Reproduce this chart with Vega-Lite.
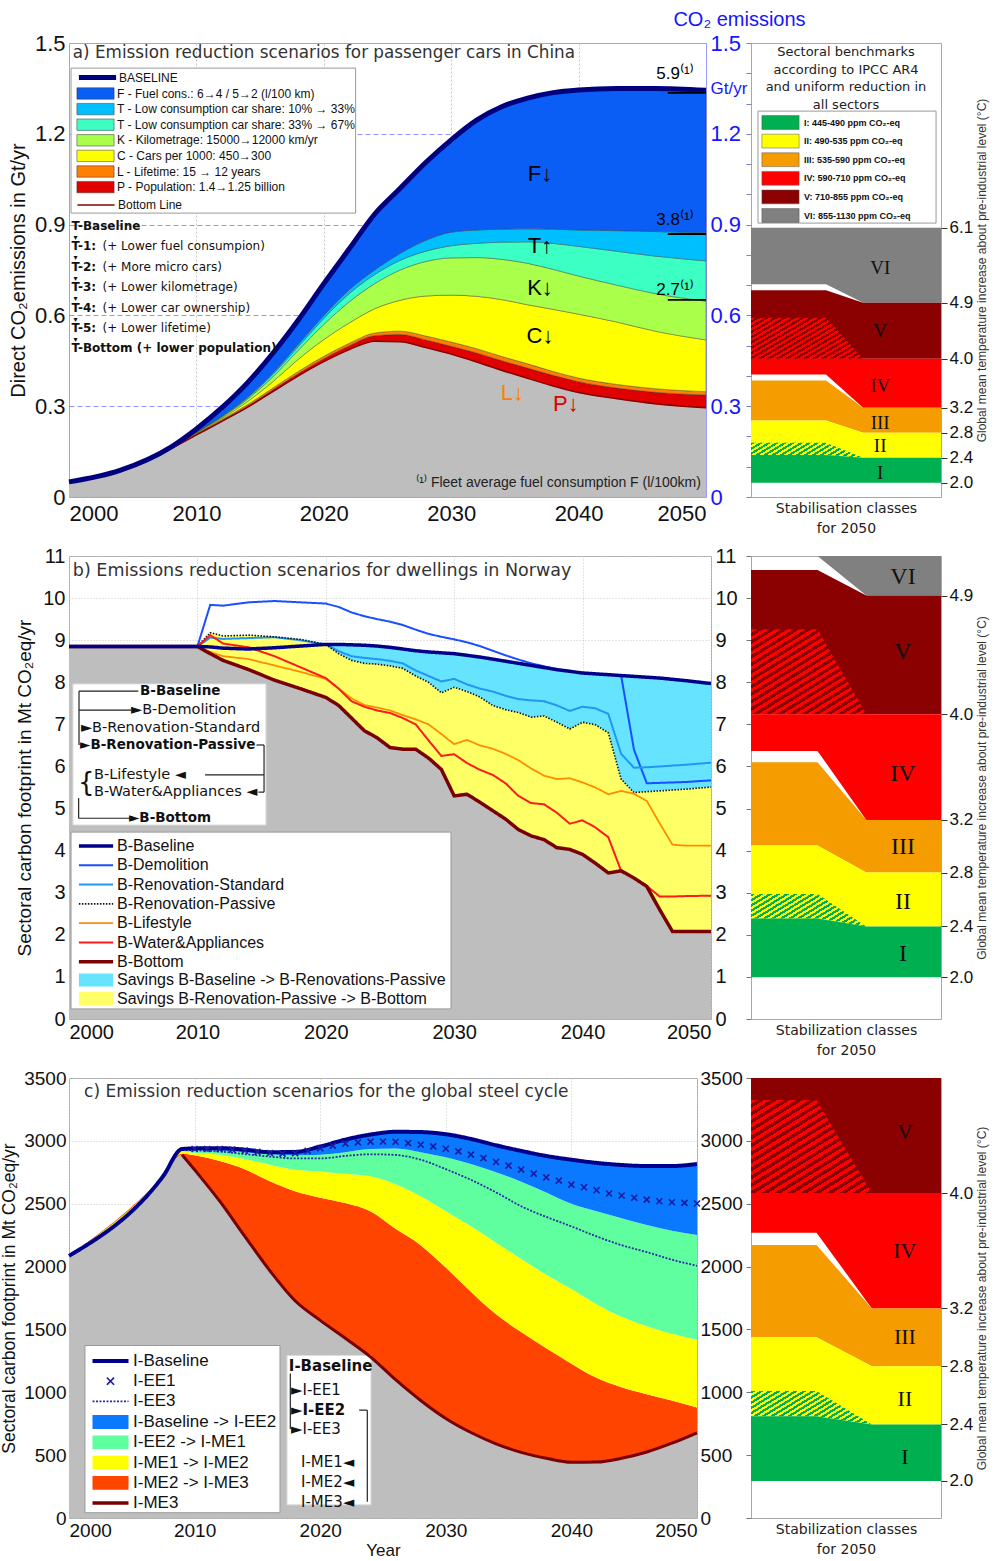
{
"$schema": "https://vega.github.io/schema/vega-lite/v6.json",
"background": "white",
"padding": {"left": 0, "top": 8, "right": 2, "bottom": 2},
"columns": 2,
"bounds": "flush",
"align": "each",
"spacing": {"row": 59, "column": 40},
"resolve": {"scale": {"x": "independent", "y": "independent", "fill": "independent", "stroke": "independent", "strokeDash": "independent", "strokeWidth": "independent", "strokeOpacity": "independent", "shape": "independent", "color": "independent"}},
"config": {
  "view": {"stroke": "#a8a8a8"},
  "axis": {"labelFont": "Liberation Sans", "titleFont": "Liberation Sans", "titleFontWeight": "normal", "labelColor": "#111", "titleColor": "#111"},
  "legend": {"labelFont": "Liberation Sans", "labelColor": "#111", "labelLimit": 600},
  "text": {"font": "Liberation Sans"}
},
"concat": [
{
  "width": 637, "height": 454,
  "resolve": {"scale": {"y": "independent"}},
  "layer": [
    {
      "data": {"values": [
        {"year":2000,"Base":0.05,"T1":0.05,"T2":0.05,"K":0.05,"C":0.05,"L":0.05,"P":0.05,"Bot":0.05},
        {"year":2004,"Base":0.088,"T1":0.088,"T2":0.088,"K":0.088,"C":0.088,"L":0.088,"P":0.088,"Bot":0.088},
        {"year":2008,"Base":0.165,"T1":0.163,"T2":0.163,"K":0.163,"C":0.162,"L":0.161,"P":0.16,"Bot":0.16},
        {"year":2010,"Base":0.225,"T1":0.215,"T2":0.214,"K":0.213,"C":0.211,"L":0.209,"P":0.207,"Bot":0.205},
        {"year":2012,"Base":0.295,"T1":0.268,"T2":0.266,"K":0.264,"C":0.26,"L":0.256,"P":0.253,"Bot":0.25},
        {"year":2014,"Base":0.377,"T1":0.33,"T2":0.327,"K":0.323,"C":0.315,"L":0.305,"P":0.3,"Bot":0.296},
        {"year":2016,"Base":0.475,"T1":0.41,"T2":0.405,"K":0.397,"C":0.381,"L":0.36,"P":0.354,"Bot":0.348},
        {"year":2018,"Base":0.585,"T1":0.505,"T2":0.497,"K":0.485,"C":0.455,"L":0.415,"P":0.408,"Bot":0.4},
        {"year":2020,"Base":0.705,"T1":0.6,"T2":0.59,"K":0.57,"C":0.52,"L":0.465,"P":0.457,"Bot":0.447},
        {"year":2022,"Base":0.82,"T1":0.685,"T2":0.672,"K":0.645,"C":0.575,"L":0.508,"P":0.5,"Bot":0.487},
        {"year":2024,"Base":0.935,"T1":0.75,"T2":0.735,"K":0.705,"C":0.622,"L":0.542,"P":0.533,"Bot":0.515},
        {"year":2026,"Base":1.02,"T1":0.805,"T2":0.782,"K":0.75,"C":0.65,"L":0.548,"P":0.537,"Bot":0.513},
        {"year":2028,"Base":1.105,"T1":0.848,"T2":0.812,"K":0.778,"C":0.664,"L":0.532,"P":0.519,"Bot":0.494},
        {"year":2030,"Base":1.18,"T1":0.875,"T2":0.83,"K":0.79,"C":0.667,"L":0.512,"P":0.498,"Bot":0.472},
        {"year":2032,"Base":1.245,"T1":0.882,"T2":0.838,"K":0.791,"C":0.663,"L":0.49,"P":0.476,"Bot":0.446},
        {"year":2034,"Base":1.29,"T1":0.885,"T2":0.842,"K":0.785,"C":0.652,"L":0.464,"P":0.45,"Bot":0.418},
        {"year":2036,"Base":1.318,"T1":0.886,"T2":0.843,"K":0.772,"C":0.635,"L":0.44,"P":0.426,"Bot":0.392},
        {"year":2038,"Base":1.336,"T1":0.885,"T2":0.838,"K":0.752,"C":0.62,"L":0.415,"P":0.402,"Bot":0.367},
        {"year":2040,"Base":1.345,"T1":0.882,"T2":0.828,"K":0.73,"C":0.604,"L":0.393,"P":0.381,"Bot":0.345},
        {"year":2043,"Base":1.35,"T1":0.88,"T2":0.812,"K":0.7,"C":0.578,"L":0.372,"P":0.36,"Bot":0.325},
        {"year":2046,"Base":1.35,"T1":0.877,"T2":0.796,"K":0.672,"C":0.548,"L":0.358,"P":0.346,"Bot":0.308},
        {"year":2050,"Base":1.344,"T1":0.873,"T2":0.78,"K":0.647,"C":0.519,"L":0.348,"P":0.337,"Bot":0.295}
      ]},
      "layer": [
        {"mark": {"type": "area", "color": "#bebebe", "interpolate": "monotone"},
         "encoding": {
           "x": {"field": "year", "type": "quantitative", "scale": {"domain": [2000, 2050], "nice": false},
                 "axis": {"values": [2000, 2010, 2020, 2030, 2040, 2050], "format": "d", "labelFontSize": 22, "labelPadding": 6, "tickSize": 0, "domain": false, "title": null, "grid": true, "gridColor": "#c4c4c4", "gridDash": [2, 2], "gridOpacity": {"condition": {"test": "datum.value == 2000 || datum.value == 2050", "value": 0}, "value": 1}}},
           "y": {"field": "Bot", "type": "quantitative", "scale": {"domain": [0, 1.5], "nice": false},
                 "axis": {"values": [0, 0.3, 0.6, 0.9, 1.2, 1.5], "labelExpr": "datum.value == 0 ? '0' : format(datum.value, '.1f')", "labelFontSize": 22, "labelPadding": 4, "tickSize": 0, "domain": false, "title": "Direct CO₂emissions in Gt/yr", "titleFontSize": 20, "titlePadding": 6, "grid": true, "gridColor": "#7878ff", "gridDash": [5, 3], "gridOpacity": {"condition": {"test": "datum.value == 0 || datum.value == 1.5", "value": 0}, "value": 0.8}}}
         }},
        {"mark": {"type": "area", "interpolate": "monotone", "stroke": "#333", "strokeWidth": 0.4},
         "encoding": {"x": {"field": "year", "type": "quantitative"}, "y": {"field": "P", "type": "quantitative"}, "y2": {"field": "Bot"},
           "fill": {"datum": "P - Population: 1.4→1.25 billion",
             "scale": {"domain": ["F - Fuel cons.: 6→4 / 5→2 (l/100 km)", "T - Low consumption car share: 10% → 33%", "T - Low consumption car share: 33% → 67%", "K - Kilometrage: 15000→12000 km/yr", "C - Cars per 1000: 450→300", "L - Lifetime: 15 → 12 years", "P - Population: 1.4→1.25 billion"],
                       "range": ["#0a5ef5", "#00bfff", "#3cffc4", "#a9ff4a", "#ffff00", "#ff8000", "#e00000"]},
             "legend": {"orient": "none", "legendX": 20, "legendY": 44, "title": null, "symbolType": "M-3.1,-0.95H3.1V0.95H-3.1Z", "symbolSize": 144, "symbolStrokeColor": "#333", "symbolStrokeWidth": 0.5, "labelFontSize": 12, "labelOffset": 15, "rowPadding": 0.6}}}},
        {"mark": {"type": "area", "interpolate": "monotone", "stroke": "#333", "strokeWidth": 0.4},
         "encoding": {"x": {"field": "year", "type": "quantitative"}, "y": {"field": "L", "type": "quantitative"}, "y2": {"field": "P"}, "fill": {"datum": "L - Lifetime: 15 → 12 years"}}},
        {"mark": {"type": "area", "interpolate": "monotone", "stroke": "#333", "strokeWidth": 0.4},
         "encoding": {"x": {"field": "year", "type": "quantitative"}, "y": {"field": "C", "type": "quantitative"}, "y2": {"field": "L"}, "fill": {"datum": "C - Cars per 1000: 450→300"}}},
        {"mark": {"type": "area", "interpolate": "monotone", "stroke": "#333", "strokeWidth": 0.4},
         "encoding": {"x": {"field": "year", "type": "quantitative"}, "y": {"field": "K", "type": "quantitative"}, "y2": {"field": "C"}, "fill": {"datum": "K - Kilometrage: 15000→12000 km/yr"}}},
        {"mark": {"type": "area", "interpolate": "monotone", "stroke": "#333", "strokeWidth": 0.4},
         "encoding": {"x": {"field": "year", "type": "quantitative"}, "y": {"field": "T2", "type": "quantitative"}, "y2": {"field": "K"}, "fill": {"datum": "T - Low consumption car share: 33% → 67%"}}},
        {"mark": {"type": "area", "interpolate": "monotone", "stroke": "#333", "strokeWidth": 0.4},
         "encoding": {"x": {"field": "year", "type": "quantitative"}, "y": {"field": "T1", "type": "quantitative"}, "y2": {"field": "T2"}, "fill": {"datum": "T - Low consumption car share: 10% → 33%"}}},
        {"mark": {"type": "area", "interpolate": "monotone", "stroke": "#333", "strokeWidth": 0.4},
         "encoding": {"x": {"field": "year", "type": "quantitative"}, "y": {"field": "Base", "type": "quantitative"}, "y2": {"field": "T1"}, "fill": {"datum": "F - Fuel cons.: 6→4 / 5→2 (l/100 km)"}}},
        {"mark": {"type": "line", "interpolate": "monotone", "strokeWidth": 1.5},
         "encoding": {"x": {"field": "year", "type": "quantitative"}, "y": {"field": "Bot", "type": "quantitative"},
           "color": {"datum": "Bottom Line", "scale": {"range": ["#8b0000"]},
             "legend": {"orient": "none", "legendX": 20, "legendY": 155, "title": null, "symbolType": "M-3.1,0H3.1", "symbolSize": 144, "symbolStrokeWidth": 1.5, "labelFontSize": 12, "labelOffset": 15}}}},
        {"mark": {"type": "line", "interpolate": "monotone", "strokeWidth": 5},
         "encoding": {"x": {"field": "year", "type": "quantitative"}, "y": {"field": "Base", "type": "quantitative"},
           "stroke": {"datum": "BASELINE", "scale": {"range": ["#00007f"]},
             "legend": {"orient": "none", "legendX": 20, "legendY": 26, "title": null, "symbolType": "M-3.1,0H3.1", "symbolSize": 144, "symbolStrokeWidth": 5, "labelFontSize": 12, "labelOffset": 13}}}},
        {"data": {"values": [{}]},
         "layer": [
           {"mark": {"type": "rect", "fill": "white", "stroke": "#999", "strokeWidth": 1},
            "encoding": {"x": {"datum": 2000.16}, "x2": {"datum": 2022.5}, "y": {"datum": 1.417}, "y2": {"datum": 0.938}}},
           {"mark": {"type": "text", "text": "a) Emission reduction scenarios for passenger cars in China", "font": "DejaVu Sans", "fontSize": 16.8, "align": "left", "baseline": "middle", "color": "#333"},
            "encoding": {"x": {"datum": 2000.3}, "y": {"datum": 1.467}}},
           {"mark": {"type": "text", "text": ["T-Baseline", "T-1:", "T-2:", "T-3:", "T-4:", "T-5:", "T-Bottom (+ lower population)"], "font": "DejaVu Sans", "fontWeight": "bold", "fontSize": 12, "lineHeight": 20.4, "align": "left", "baseline": "alphabetic", "color": "#111"},
            "encoding": {"x": {"datum": 2000.2}, "y": {"datum": 0.882}}},
           {"mark": {"type": "text", "text": ["", "(+ Lower fuel consumpion)", "(+ More micro cars)", "(+ Lower kilometrage)", "(+ Lower car ownership)", "(+ Lower lifetime)", ""], "font": "DejaVu Sans", "fontSize": 12, "lineHeight": 20.4, "align": "left", "baseline": "alphabetic", "dx": 31, "color": "#111"},
            "encoding": {"x": {"datum": 2000.2}, "y": {"datum": 0.882}}},
           {"mark": {"type": "text", "text": ["▾", "▾", "▾", "▾", "▾", "▾"], "font": "DejaVu Sans", "fontSize": 8, "lineHeight": 20.4, "align": "left", "baseline": "alphabetic", "dx": 2, "dy": 10, "color": "#111"},
            "encoding": {"x": {"datum": 2000.2}, "y": {"datum": 0.882}}},
           {"mark": {"type": "text", "text": "F↓", "fontSize": 22, "align": "center", "baseline": "middle", "color": "#000"}, "encoding": {"x": {"datum": 2036.97}, "y": {"datum": 1.067}}},
           {"mark": {"type": "text", "text": "T↑", "fontSize": 22, "align": "center", "baseline": "middle", "color": "#000"}, "encoding": {"x": {"datum": 2036.97}, "y": {"datum": 0.829}}},
           {"mark": {"type": "text", "text": "K↓", "fontSize": 22, "align": "center", "baseline": "middle", "color": "#000"}, "encoding": {"x": {"datum": 2036.97}, "y": {"datum": 0.69}}},
           {"mark": {"type": "text", "text": "C↓", "fontSize": 22, "align": "center", "baseline": "middle", "color": "#000"}, "encoding": {"x": {"datum": 2036.97}, "y": {"datum": 0.532}}},
           {"mark": {"type": "text", "text": "L↓", "fontSize": 22, "align": "center", "baseline": "middle", "color": "#ff8000"}, "encoding": {"x": {"datum": 2034.8}, "y": {"datum": 0.344}}},
           {"mark": {"type": "text", "text": "P↓", "fontSize": 22, "align": "center", "baseline": "middle", "color": "#e00000"}, "encoding": {"x": {"datum": 2039.0}, "y": {"datum": 0.307}}},
           {"mark": {"type": "text", "text": "5.9⁽¹⁾", "fontSize": 17, "align": "left", "baseline": "middle", "color": "#000"}, "encoding": {"x": {"datum": 2046.1}, "y": {"datum": 1.397}}},
           {"mark": {"type": "text", "text": "3.8⁽¹⁾", "fontSize": 17, "align": "left", "baseline": "middle", "color": "#000"}, "encoding": {"x": {"datum": 2046.1}, "y": {"datum": 0.915}}},
           {"mark": {"type": "text", "text": "2.7⁽¹⁾", "fontSize": 17, "align": "left", "baseline": "middle", "color": "#000"}, "encoding": {"x": {"datum": 2046.1}, "y": {"datum": 0.684}}},
           {"mark": {"type": "rule", "color": "#000", "strokeWidth": 1.8}, "encoding": {"x": {"datum": 2047}, "x2": {"datum": 2050}, "y": {"datum": 1.335}}},
           {"mark": {"type": "rule", "color": "#000", "strokeWidth": 1.8}, "encoding": {"x": {"datum": 2047}, "x2": {"datum": 2050}, "y": {"datum": 0.869}}},
           {"mark": {"type": "rule", "color": "#000", "strokeWidth": 1.8}, "encoding": {"x": {"datum": 2047}, "x2": {"datum": 2050}, "y": {"datum": 0.651}}},
           {"mark": {"type": "text", "text": "⁽¹⁾ Fleet average fuel consumption F (l/100km)", "fontSize": 14, "align": "right", "baseline": "middle", "color": "#222"}, "encoding": {"x": {"datum": 2049.6}, "y": {"datum": 0.046}}}
         ]}
      ]
    },
    {"data": {"values": [{}]},
     "mark": {"type": "rule", "opacity": 0},
     "encoding": {"y": {"datum": 0, "type": "quantitative", "scale": {"domain": [0, 1.5], "nice": false},
       "axis": {"orient": "right", "values": [0, 0.3, 0.6, 0.9, 1.2, 1.35, 1.5], "labelExpr": "datum.value == 1.35 ? 'Gt/yr' : datum.value == 0 ? '0' : format(datum.value, '.1f')", "labelOverlap": false, "labelColor": "#1515ff", "labelFontSize": {"condition": {"test": "datum.value == 1.35", "value": 17}, "value": 22}, "labelPadding": 4, "tickSize": 0, "domain": true, "domainColor": "#9a9aff", "grid": false, "title": "CO₂ emissions", "titleColor": "#1515ff", "titleFontSize": 20, "titleAngle": 0, "titleAlign": "center", "titleBaseline": "middle", "titleX": 33, "titleY": -24}}}}
  ]
},
{
  "width": 190, "height": 454,
  "resolve": {"scale": {"y": "independent"}},
  "layer": [
    {
      "data": {"values": [
        {"x":0,"vi_t":0.89,"vi_b":0.703,"v_t":0.683,"vh_t":0.592,"v_b":0.457,"iv_b":0.405,"iii_t":0.385,"iii_b":0.253,"iih_t":0.179,"i_t":0.139,"i_b":0.047},
        {"x":0.395,"vi_t":0.89,"vi_b":0.703,"v_t":0.683,"vh_t":0.592,"v_b":0.457,"iv_b":0.405,"iii_t":0.385,"iii_b":0.253,"iih_t":0.179,"i_t":0.139,"i_b":0.047},
        {"x":0.59,"vi_t":0.89,"vi_b":0.642,"v_t":0.642,"vh_t":0.457,"v_b":0.457,"iv_b":0.295,"iii_t":0.295,"iii_b":0.212,"iih_t":0.13,"i_t":0.13,"i_b":0.047},
        {"x":1,"vi_t":0.89,"vi_b":0.642,"v_t":0.642,"vh_t":0.457,"v_b":0.457,"iv_b":0.295,"iii_t":0.295,"iii_b":0.212,"iih_t":0.13,"i_t":0.13,"i_b":0.047}
      ]},
      "layer": [
        {"mark": {"type": "area"},
         "encoding": {
           "x": {"field": "x", "type": "quantitative", "scale": {"domain": [0, 1], "nice": false},
                 "axis": {"title": ["Stabilisation classes", "for 2050"], "labels": false, "ticks": false, "domain": false, "grid": false, "titleFont": "DejaVu Sans", "titleFontSize": 14, "titlePadding": 4, "titleLineHeight": 20, "titleColor": "#222"}},
           "y": {"field": "vi_t", "type": "quantitative", "scale": {"domain": [0, 1.5], "nice": false},
                 "axis": {"orient": "right", "values": [0.047, 0.13, 0.212, 0.295, 0.457, 0.642, 0.89], "labelExpr": "datum.value < 0.1 ? '2.0' : datum.value < 0.17 ? '2.4' : datum.value < 0.25 ? '2.8' : datum.value < 0.35 ? '3.2' : datum.value < 0.5 ? '4.0' : datum.value < 0.7 ? '4.9' : '6.1'", "labelFontSize": 17, "labelPadding": 2, "tickSize": 6, "tickColor": "#333", "domain": false, "grid": false, "title": "Global mean temperature increase about pre-industrial level (°C)", "titleFontSize": 12, "titleAngle": 270, "titleBaseline": "top", "titlePadding": 4, "titleColor": "#333"}},
           "y2": {"field": "vi_b"},
           "fill": {"datum": "VI: 855-1130 ppm CO₂-eq",
             "scale": {"domain": ["I: 445-490 ppm CO₂-eq", "II: 490-535 ppm CO₂-eq", "III: 535-590 ppm CO₂-eq", "IV: 590-710 ppm CO₂-eq", "V: 710-855 ppm CO₂-eq", "VI: 855-1130 ppm CO₂-eq"],
                       "range": ["#00b050", "#ffff00", "#f59d00", "#ff0000", "#8b0000", "#808080"]},
             "legend": {"orient": "none", "legendX": 23, "legendY": 73, "title": null, "symbolType": "M-3.1,-1.15H3.1V1.15H-3.1Z", "symbolSize": 144, "symbolStrokeColor": "#555", "symbolStrokeWidth": 0.5, "labelFontSize": 9, "labelFontWeight": "bold", "labelOffset": 17, "rowPadding": 1.6}}}},
        {"mark": {"type": "area"}, "encoding": {"x": {"field": "x", "type": "quantitative"}, "y": {"field": "v_t", "type": "quantitative"}, "y2": {"field": "v_b"}, "fill": {"datum": "V: 710-855 ppm CO₂-eq"}}},
        {"mark": {"type": "area", "color": {"gradient": "linear", "x1": 0, "y1": 0, "x2": 1, "y2": 0.37, "stops": [
      {"offset":0,"color":"#ff0000"},{"offset":0.0208,"color":"#ff0000"},{"offset":0.0208,"color":"#8b0000"},{"offset":0.0417,"color":"#8b0000"},
      {"offset":0.0417,"color":"#ff0000"},{"offset":0.0625,"color":"#ff0000"},{"offset":0.0625,"color":"#8b0000"},{"offset":0.0833,"color":"#8b0000"},
      {"offset":0.0833,"color":"#ff0000"},{"offset":0.1042,"color":"#ff0000"},{"offset":0.1042,"color":"#8b0000"},{"offset":0.125,"color":"#8b0000"},
      {"offset":0.125,"color":"#ff0000"},{"offset":0.1458,"color":"#ff0000"},{"offset":0.1458,"color":"#8b0000"},{"offset":0.1667,"color":"#8b0000"},
      {"offset":0.1667,"color":"#ff0000"},{"offset":0.1875,"color":"#ff0000"},{"offset":0.1875,"color":"#8b0000"},{"offset":0.2083,"color":"#8b0000"},
      {"offset":0.2083,"color":"#ff0000"},{"offset":0.2292,"color":"#ff0000"},{"offset":0.2292,"color":"#8b0000"},{"offset":0.25,"color":"#8b0000"},
      {"offset":0.25,"color":"#ff0000"},{"offset":0.2708,"color":"#ff0000"},{"offset":0.2708,"color":"#8b0000"},{"offset":0.2917,"color":"#8b0000"},
      {"offset":0.2917,"color":"#ff0000"},{"offset":0.3125,"color":"#ff0000"},{"offset":0.3125,"color":"#8b0000"},{"offset":0.3333,"color":"#8b0000"},
      {"offset":0.3333,"color":"#ff0000"},{"offset":0.3542,"color":"#ff0000"},{"offset":0.3542,"color":"#8b0000"},{"offset":0.375,"color":"#8b0000"},
      {"offset":0.375,"color":"#ff0000"},{"offset":0.3958,"color":"#ff0000"},{"offset":0.3958,"color":"#8b0000"},{"offset":0.4167,"color":"#8b0000"},
      {"offset":0.4167,"color":"#ff0000"},{"offset":0.4375,"color":"#ff0000"},{"offset":0.4375,"color":"#8b0000"},{"offset":0.4583,"color":"#8b0000"},
      {"offset":0.4583,"color":"#ff0000"},{"offset":0.4792,"color":"#ff0000"},{"offset":0.4792,"color":"#8b0000"},{"offset":0.5,"color":"#8b0000"},
      {"offset":0.5,"color":"#ff0000"},{"offset":0.5208,"color":"#ff0000"},{"offset":0.5208,"color":"#8b0000"},{"offset":0.5417,"color":"#8b0000"},
      {"offset":0.5417,"color":"#ff0000"},{"offset":0.5625,"color":"#ff0000"},{"offset":0.5625,"color":"#8b0000"},{"offset":0.5833,"color":"#8b0000"},
      {"offset":0.5833,"color":"#ff0000"},{"offset":0.6042,"color":"#ff0000"},{"offset":0.6042,"color":"#8b0000"},{"offset":0.625,"color":"#8b0000"},
      {"offset":0.625,"color":"#ff0000"},{"offset":0.6458,"color":"#ff0000"},{"offset":0.6458,"color":"#8b0000"},{"offset":0.6667,"color":"#8b0000"},
      {"offset":0.6667,"color":"#ff0000"},{"offset":0.6875,"color":"#ff0000"},{"offset":0.6875,"color":"#8b0000"},{"offset":0.7083,"color":"#8b0000"},
      {"offset":0.7083,"color":"#ff0000"},{"offset":0.7292,"color":"#ff0000"},{"offset":0.7292,"color":"#8b0000"},{"offset":0.75,"color":"#8b0000"},
      {"offset":0.75,"color":"#ff0000"},{"offset":0.7708,"color":"#ff0000"},{"offset":0.7708,"color":"#8b0000"},{"offset":0.7917,"color":"#8b0000"},
      {"offset":0.7917,"color":"#ff0000"},{"offset":0.8125,"color":"#ff0000"},{"offset":0.8125,"color":"#8b0000"},{"offset":0.8333,"color":"#8b0000"},
      {"offset":0.8333,"color":"#ff0000"},{"offset":0.8542,"color":"#ff0000"},{"offset":0.8542,"color":"#8b0000"},{"offset":0.875,"color":"#8b0000"},
      {"offset":0.875,"color":"#ff0000"},{"offset":0.8958,"color":"#ff0000"},{"offset":0.8958,"color":"#8b0000"},{"offset":0.9167,"color":"#8b0000"},
      {"offset":0.9167,"color":"#ff0000"},{"offset":0.9375,"color":"#ff0000"},{"offset":0.9375,"color":"#8b0000"},{"offset":0.9583,"color":"#8b0000"},
      {"offset":0.9583,"color":"#ff0000"},{"offset":0.9792,"color":"#ff0000"},{"offset":0.9792,"color":"#8b0000"},{"offset":1,"color":"#8b0000"}]}},
         "encoding": {"x": {"field": "x", "type": "quantitative"}, "y": {"field": "vh_t", "type": "quantitative"}, "y2": {"field": "v_b"}}},
        {"mark": {"type": "area"}, "encoding": {"x": {"field": "x", "type": "quantitative"}, "y": {"field": "v_b", "type": "quantitative"}, "y2": {"field": "iv_b"}, "fill": {"datum": "IV: 590-710 ppm CO₂-eq"}}},
        {"mark": {"type": "area"}, "encoding": {"x": {"field": "x", "type": "quantitative"}, "y": {"field": "iii_t", "type": "quantitative"}, "y2": {"field": "iii_b"}, "fill": {"datum": "III: 535-590 ppm CO₂-eq"}}},
        {"mark": {"type": "area"}, "encoding": {"x": {"field": "x", "type": "quantitative"}, "y": {"field": "iii_b", "type": "quantitative"}, "y2": {"field": "i_t"}, "fill": {"datum": "II: 490-535 ppm CO₂-eq"}}},
        {"mark": {"type": "area", "color": {"gradient": "linear", "x1": 0, "y1": 0, "x2": 1, "y2": 0.13, "stops": [
      {"offset":0,"color":"#00b050"},{"offset":0.0208,"color":"#00b050"},{"offset":0.0208,"color":"#ffff00"},{"offset":0.0417,"color":"#ffff00"},
      {"offset":0.0417,"color":"#00b050"},{"offset":0.0625,"color":"#00b050"},{"offset":0.0625,"color":"#ffff00"},{"offset":0.0833,"color":"#ffff00"},
      {"offset":0.0833,"color":"#00b050"},{"offset":0.1042,"color":"#00b050"},{"offset":0.1042,"color":"#ffff00"},{"offset":0.125,"color":"#ffff00"},
      {"offset":0.125,"color":"#00b050"},{"offset":0.1458,"color":"#00b050"},{"offset":0.1458,"color":"#ffff00"},{"offset":0.1667,"color":"#ffff00"},
      {"offset":0.1667,"color":"#00b050"},{"offset":0.1875,"color":"#00b050"},{"offset":0.1875,"color":"#ffff00"},{"offset":0.2083,"color":"#ffff00"},
      {"offset":0.2083,"color":"#00b050"},{"offset":0.2292,"color":"#00b050"},{"offset":0.2292,"color":"#ffff00"},{"offset":0.25,"color":"#ffff00"},
      {"offset":0.25,"color":"#00b050"},{"offset":0.2708,"color":"#00b050"},{"offset":0.2708,"color":"#ffff00"},{"offset":0.2917,"color":"#ffff00"},
      {"offset":0.2917,"color":"#00b050"},{"offset":0.3125,"color":"#00b050"},{"offset":0.3125,"color":"#ffff00"},{"offset":0.3333,"color":"#ffff00"},
      {"offset":0.3333,"color":"#00b050"},{"offset":0.3542,"color":"#00b050"},{"offset":0.3542,"color":"#ffff00"},{"offset":0.375,"color":"#ffff00"},
      {"offset":0.375,"color":"#00b050"},{"offset":0.3958,"color":"#00b050"},{"offset":0.3958,"color":"#ffff00"},{"offset":0.4167,"color":"#ffff00"},
      {"offset":0.4167,"color":"#00b050"},{"offset":0.4375,"color":"#00b050"},{"offset":0.4375,"color":"#ffff00"},{"offset":0.4583,"color":"#ffff00"},
      {"offset":0.4583,"color":"#00b050"},{"offset":0.4792,"color":"#00b050"},{"offset":0.4792,"color":"#ffff00"},{"offset":0.5,"color":"#ffff00"},
      {"offset":0.5,"color":"#00b050"},{"offset":0.5208,"color":"#00b050"},{"offset":0.5208,"color":"#ffff00"},{"offset":0.5417,"color":"#ffff00"},
      {"offset":0.5417,"color":"#00b050"},{"offset":0.5625,"color":"#00b050"},{"offset":0.5625,"color":"#ffff00"},{"offset":0.5833,"color":"#ffff00"},
      {"offset":0.5833,"color":"#00b050"},{"offset":0.6042,"color":"#00b050"},{"offset":0.6042,"color":"#ffff00"},{"offset":0.625,"color":"#ffff00"},
      {"offset":0.625,"color":"#00b050"},{"offset":0.6458,"color":"#00b050"},{"offset":0.6458,"color":"#ffff00"},{"offset":0.6667,"color":"#ffff00"},
      {"offset":0.6667,"color":"#00b050"},{"offset":0.6875,"color":"#00b050"},{"offset":0.6875,"color":"#ffff00"},{"offset":0.7083,"color":"#ffff00"},
      {"offset":0.7083,"color":"#00b050"},{"offset":0.7292,"color":"#00b050"},{"offset":0.7292,"color":"#ffff00"},{"offset":0.75,"color":"#ffff00"},
      {"offset":0.75,"color":"#00b050"},{"offset":0.7708,"color":"#00b050"},{"offset":0.7708,"color":"#ffff00"},{"offset":0.7917,"color":"#ffff00"},
      {"offset":0.7917,"color":"#00b050"},{"offset":0.8125,"color":"#00b050"},{"offset":0.8125,"color":"#ffff00"},{"offset":0.8333,"color":"#ffff00"},
      {"offset":0.8333,"color":"#00b050"},{"offset":0.8542,"color":"#00b050"},{"offset":0.8542,"color":"#ffff00"},{"offset":0.875,"color":"#ffff00"},
      {"offset":0.875,"color":"#00b050"},{"offset":0.8958,"color":"#00b050"},{"offset":0.8958,"color":"#ffff00"},{"offset":0.9167,"color":"#ffff00"},
      {"offset":0.9167,"color":"#00b050"},{"offset":0.9375,"color":"#00b050"},{"offset":0.9375,"color":"#ffff00"},{"offset":0.9583,"color":"#ffff00"},
      {"offset":0.9583,"color":"#00b050"},{"offset":0.9792,"color":"#00b050"},{"offset":0.9792,"color":"#ffff00"},{"offset":1,"color":"#ffff00"}]}},
         "encoding": {"x": {"field": "x", "type": "quantitative"}, "y": {"field": "iih_t", "type": "quantitative"}, "y2": {"field": "i_t"}}},
        {"mark": {"type": "area"}, "encoding": {"x": {"field": "x", "type": "quantitative"}, "y": {"field": "i_t", "type": "quantitative"}, "y2": {"field": "i_b"}, "fill": {"datum": "I: 445-490 ppm CO₂-eq"}}},
        {"data": {"values": [{}]},
         "layer": [
           {"mark": {"type": "rect", "fill": "white", "stroke": "#999", "strokeWidth": 1},
            "encoding": {"x": {"datum": 0.037}, "x2": {"datum": 0.974}, "y": {"datum": 1.275}, "y2": {"datum": 0.905}}},
           {"mark": {"type": "text", "text": ["Sectoral benchmarks", "according to IPCC AR4", "and uniform reduction in", "all sectors"], "font": "DejaVu Sans", "fontSize": 13, "lineHeight": 17.7, "align": "center", "baseline": "alphabetic", "color": "#222"},
            "encoding": {"x": {"datum": 0.5}, "y": {"datum": 1.457}}},
           {"mark": {"type": "text", "text": "VI", "font": "Liberation Serif", "fontSize": 19, "align": "center", "baseline": "middle", "color": "#111"}, "encoding": {"x": {"datum": 0.68}, "y": {"datum": 0.757}}},
           {"mark": {"type": "text", "text": "V", "font": "Liberation Serif", "fontSize": 19, "align": "center", "baseline": "middle", "color": "#111"}, "encoding": {"x": {"datum": 0.68}, "y": {"datum": 0.548}}},
           {"mark": {"type": "text", "text": "IV", "font": "Liberation Serif", "fontSize": 19, "align": "center", "baseline": "middle", "color": "#111"}, "encoding": {"x": {"datum": 0.68}, "y": {"datum": 0.367}}},
           {"mark": {"type": "text", "text": "III", "font": "Liberation Serif", "fontSize": 19, "align": "center", "baseline": "middle", "color": "#111"}, "encoding": {"x": {"datum": 0.68}, "y": {"datum": 0.245}}},
           {"mark": {"type": "text", "text": "II", "font": "Liberation Serif", "fontSize": 19, "align": "center", "baseline": "middle", "color": "#111"}, "encoding": {"x": {"datum": 0.68}, "y": {"datum": 0.168}}},
           {"mark": {"type": "text", "text": "I", "font": "Liberation Serif", "fontSize": 19, "align": "center", "baseline": "middle", "color": "#111"}, "encoding": {"x": {"datum": 0.68}, "y": {"datum": 0.08}}}
         ]}
      ]
    },
    {"data": {"values": [{}]},
     "mark": {"type": "rule", "opacity": 0},
     "encoding": {"y": {"datum": 0, "type": "quantitative", "scale": {"domain": [0, 1.5], "nice": false},
       "axis": {"orient": "left", "values": [0, 0.1, 0.2, 0.3, 0.4, 0.5, 0.6, 0.7, 0.8, 0.9, 1.0, 1.1, 1.2, 1.3, 1.4, 1.5], "labels": false, "tickSize": 5, "tickColor": "#8080c0", "domain": false, "grid": false, "title": null}}}}
  ]
},
{
  "width": 642, "height": 463,
  "resolve": {"scale": {"y": "independent"}},
  "layer": [
    {
      "data": {"values": [
        {"year":2000,"B-Baseline":8.85,"B-Demolition":8.85,"B-Renovation-Standard":8.85,"B-Renovation-Passive":8.85,"B-Lifestyle":8.85,"B-Water&Appliances":8.85,"B-Bottom":8.85},
        {"year":2010,"B-Baseline":8.85,"B-Demolition":8.85,"B-Renovation-Standard":8.85,"B-Renovation-Passive":8.85,"B-Lifestyle":8.85,"B-Water&Appliances":8.85,"B-Bottom":8.85},
        {"year":2011,"B-Baseline":8.84,"B-Demolition":9.84,"B-Renovation-Standard":9.06,"B-Renovation-Passive":9.18,"B-Lifestyle":8.72,"B-Water&Appliances":9.12,"B-Bottom":8.68},
        {"year":2012,"B-Baseline":8.81,"B-Demolition":9.82,"B-Renovation-Standard":9.03,"B-Renovation-Passive":9.1,"B-Lifestyle":8.62,"B-Water&Appliances":8.92,"B-Bottom":8.52},
        {"year":2014,"B-Baseline":8.79,"B-Demolition":9.9,"B-Renovation-Standard":9.05,"B-Renovation-Passive":9.12,"B-Lifestyle":8.55,"B-Water&Appliances":8.83,"B-Bottom":8.3},
        {"year":2016,"B-Baseline":8.82,"B-Demolition":9.93,"B-Renovation-Standard":9.07,"B-Renovation-Passive":9.08,"B-Lifestyle":8.4,"B-Water&Appliances":8.62,"B-Bottom":8.05},
        {"year":2018,"B-Baseline":8.86,"B-Demolition":9.9,"B-Renovation-Standard":9.0,"B-Renovation-Passive":9.02,"B-Lifestyle":8.25,"B-Water&Appliances":8.36,"B-Bottom":7.85},
        {"year":2020,"B-Baseline":8.9,"B-Demolition":9.87,"B-Renovation-Standard":8.9,"B-Renovation-Passive":8.9,"B-Lifestyle":8.08,"B-Water&Appliances":8.1,"B-Bottom":7.64},
        {"year":2021,"B-Baseline":8.9,"B-Demolition":9.79,"B-Renovation-Standard":8.74,"B-Renovation-Passive":8.68,"B-Lifestyle":7.85,"B-Water&Appliances":7.85,"B-Bottom":7.45},
        {"year":2022,"B-Baseline":8.89,"B-Demolition":9.66,"B-Renovation-Standard":8.62,"B-Renovation-Passive":8.52,"B-Lifestyle":7.62,"B-Water&Appliances":7.55,"B-Bottom":7.15},
        {"year":2023,"B-Baseline":8.88,"B-Demolition":9.57,"B-Renovation-Standard":8.58,"B-Renovation-Passive":8.45,"B-Lifestyle":7.46,"B-Water&Appliances":7.42,"B-Bottom":6.85},
        {"year":2024,"B-Baseline":8.86,"B-Demolition":9.5,"B-Renovation-Standard":8.55,"B-Renovation-Passive":8.43,"B-Lifestyle":7.4,"B-Water&Appliances":7.33,"B-Bottom":6.68},
        {"year":2025,"B-Baseline":8.83,"B-Demolition":9.44,"B-Renovation-Standard":8.51,"B-Renovation-Passive":8.39,"B-Lifestyle":7.33,"B-Water&Appliances":7.27,"B-Bottom":6.45},
        {"year":2026,"B-Baseline":8.79,"B-Demolition":9.36,"B-Renovation-Standard":8.45,"B-Renovation-Passive":8.33,"B-Lifestyle":7.22,"B-Water&Appliances":7.15,"B-Bottom":6.41},
        {"year":2027,"B-Baseline":8.75,"B-Demolition":9.25,"B-Renovation-Standard":8.28,"B-Renovation-Passive":8.15,"B-Lifestyle":7.12,"B-Water&Appliances":7.0,"B-Bottom":6.41},
        {"year":2028,"B-Baseline":8.72,"B-Demolition":9.15,"B-Renovation-Standard":8.15,"B-Renovation-Passive":8.0,"B-Lifestyle":7.0,"B-Water&Appliances":6.62,"B-Bottom":6.2},
        {"year":2029,"B-Baseline":8.7,"B-Demolition":9.08,"B-Renovation-Standard":8.02,"B-Renovation-Passive":7.75,"B-Lifestyle":6.77,"B-Water&Appliances":6.25,"B-Bottom":5.93},
        {"year":2030,"B-Baseline":8.68,"B-Demolition":9.02,"B-Renovation-Standard":8.08,"B-Renovation-Passive":7.88,"B-Lifestyle":6.53,"B-Water&Appliances":6.29,"B-Bottom":5.3},
        {"year":2031,"B-Baseline":8.64,"B-Demolition":8.95,"B-Renovation-Standard":7.95,"B-Renovation-Passive":7.78,"B-Lifestyle":6.63,"B-Water&Appliances":6.08,"B-Bottom":5.34},
        {"year":2032,"B-Baseline":8.6,"B-Demolition":8.86,"B-Renovation-Standard":7.85,"B-Renovation-Passive":7.65,"B-Lifestyle":6.5,"B-Water&Appliances":5.92,"B-Bottom":5.15},
        {"year":2033,"B-Baseline":8.55,"B-Demolition":8.75,"B-Renovation-Standard":7.78,"B-Renovation-Passive":7.45,"B-Lifestyle":6.42,"B-Water&Appliances":5.8,"B-Bottom":4.95},
        {"year":2034,"B-Baseline":8.5,"B-Demolition":8.64,"B-Renovation-Standard":7.68,"B-Renovation-Passive":7.35,"B-Lifestyle":6.3,"B-Water&Appliances":5.6,"B-Bottom":4.75},
        {"year":2035,"B-Baseline":8.45,"B-Demolition":8.54,"B-Renovation-Standard":7.6,"B-Renovation-Passive":7.28,"B-Lifestyle":6.15,"B-Water&Appliances":5.3,"B-Bottom":4.5},
        {"year":2036,"B-Baseline":8.4,"B-Demolition":8.45,"B-Renovation-Standard":7.57,"B-Renovation-Passive":7.17,"B-Lifestyle":5.95,"B-Water&Appliances":5.13,"B-Bottom":4.35},
        {"year":2037,"B-Baseline":8.35,"B-Demolition":8.38,"B-Renovation-Standard":7.55,"B-Renovation-Passive":7.2,"B-Lifestyle":5.78,"B-Water&Appliances":5.1,"B-Bottom":4.26},
        {"year":2038,"B-Baseline":8.3,"B-Demolition":8.31,"B-Renovation-Standard":7.45,"B-Renovation-Passive":7.05,"B-Lifestyle":5.7,"B-Water&Appliances":4.9,"B-Bottom":4.07},
        {"year":2039,"B-Baseline":8.26,"B-Demolition":8.26,"B-Renovation-Standard":7.32,"B-Renovation-Passive":6.89,"B-Lifestyle":5.72,"B-Water&Appliances":4.64,"B-Bottom":4.03},
        {"year":2040,"B-Baseline":8.22,"B-Demolition":8.22,"B-Renovation-Standard":7.42,"B-Renovation-Passive":7.05,"B-Lifestyle":5.62,"B-Water&Appliances":4.72,"B-Bottom":3.91},
        {"year":2041,"B-Baseline":8.2,"B-Demolition":8.2,"B-Renovation-Standard":7.38,"B-Renovation-Passive":6.99,"B-Lifestyle":5.5,"B-Water&Appliances":4.55,"B-Bottom":3.7},
        {"year":2042,"B-Baseline":8.18,"B-Demolition":8.18,"B-Renovation-Standard":7.25,"B-Renovation-Passive":6.8,"B-Lifestyle":5.34,"B-Water&Appliances":4.32,"B-Bottom":3.47},
        {"year":2043,"B-Baseline":8.16,"B-Demolition":8.16,"B-Renovation-Standard":6.3,"B-Renovation-Passive":5.7,"B-Lifestyle":5.42,"B-Water&Appliances":3.52,"B-Bottom":3.52},
        {"year":2044,"B-Baseline":8.14,"B-Demolition":6.4,"B-Renovation-Standard":5.97,"B-Renovation-Passive":5.38,"B-Lifestyle":5.35,"B-Water&Appliances":3.35,"B-Bottom":3.35},
        {"year":2045,"B-Baseline":8.12,"B-Demolition":5.6,"B-Renovation-Standard":5.98,"B-Renovation-Passive":5.4,"B-Lifestyle":5.18,"B-Water&Appliances":3.16,"B-Bottom":3.15},
        {"year":2046,"B-Baseline":8.1,"B-Demolition":5.61,"B-Renovation-Standard":6.0,"B-Renovation-Passive":5.42,"B-Lifestyle":4.65,"B-Water&Appliances":2.91,"B-Bottom":2.6},
        {"year":2047,"B-Baseline":8.07,"B-Demolition":5.62,"B-Renovation-Standard":6.02,"B-Renovation-Passive":5.44,"B-Lifestyle":4.14,"B-Water&Appliances":2.91,"B-Bottom":2.08},
        {"year":2048,"B-Baseline":8.04,"B-Demolition":5.63,"B-Renovation-Standard":6.04,"B-Renovation-Passive":5.46,"B-Lifestyle":4.12,"B-Water&Appliances":2.92,"B-Bottom":2.08},
        {"year":2050,"B-Baseline":7.97,"B-Demolition":5.67,"B-Renovation-Standard":6.09,"B-Renovation-Passive":5.51,"B-Lifestyle":4.12,"B-Water&Appliances":2.93,"B-Bottom":2.08}
      ]},
      "layer": [
        {"mark": {"type": "area", "color": "#bebebe"},
         "encoding": {
           "x": {"field": "year", "type": "quantitative", "scale": {"domain": [2000, 2050], "nice": false},
                 "axis": {"values": [2000, 2010, 2020, 2030, 2040, 2050], "format": "d", "labelFontSize": 20, "labelPadding": 3, "tickSize": 0, "domain": false, "title": null, "grid": true, "gridColor": "#c8c8c8", "gridDash": [1, 2]}},
           "y": {"field": "B-Bottom", "type": "quantitative", "scale": {"domain": [0, 11], "nice": false},
                 "axis": {"values": [0, 1, 2, 3, 4, 5, 6, 7, 8, 9, 10, 11], "labelFontSize": 20, "labelPadding": 4, "tickSize": 0, "domain": false, "title": "Sectoral carbon footprint in Mt CO₂eq/yr", "titleFontSize": 19, "titlePadding": 8, "grid": true, "gridColor": "#c8c8c8", "gridDash": [1, 2]}}
         }},
        {"mark": {"type": "area"},
         "encoding": {"x": {"field": "year", "type": "quantitative"}, "y": {"field": "B-Baseline", "type": "quantitative"}, "y2": {"field": "B-Renovation-Passive"},
           "fill": {"datum": "Savings B-Baseline -> B-Renovations-Passive",
             "scale": {"domain": ["Savings B-Baseline -> B-Renovations-Passive", "Savings B-Renovation-Passive -> B-Bottom"], "range": ["#66e3ff", "#ffff66"]},
             "legend": {"orient": "none", "legendX": 19, "legendY": 416, "title": null, "symbolType": "M-2.85,-1.1H2.85V1.1H-2.85Z", "symbolSize": 144, "labelFontSize": 16, "labelOffset": 13, "rowPadding": 2.6}}}},
        {"mark": {"type": "area"},
         "encoding": {"x": {"field": "year", "type": "quantitative"}, "y": {"field": "B-Renovation-Passive", "type": "quantitative"}, "y2": {"field": "B-Bottom"}, "fill": {"datum": "Savings B-Renovation-Passive -> B-Bottom"}}},
        {"data": {"values": [{}]},
         "layer": [
           {"mark": {"type": "rect", "fill": "white", "stroke": "#999", "strokeWidth": 1},
            "encoding": {"x": {"datum": 2000.16}, "x2": {"datum": 2029.75}, "y": {"datum": 4.44}, "y2": {"datum": 0.24}}},
           {"mark": {"type": "rect", "fill": "white", "stroke": "#ddd", "strokeWidth": 1},
            "encoding": {"x": {"datum": 2000.31}, "x2": {"datum": 2015.34}, "y": {"datum": 7.96}, "y2": {"datum": 4.61}}},
           {"mark": {"type": "text", "text": "b) Emissions reduction scenarios for dwellings in Norway", "font": "DejaVu Sans", "fontSize": 17.5, "align": "left", "baseline": "middle", "color": "#333"},
            "encoding": {"x": {"datum": 2000.3}, "y": {"datum": 10.64}}},
           {"mark": {"type": "text", "text": "B-Baseline", "font": "DejaVu Sans", "fontWeight": "bold", "fontSize": 13.5, "align": "left", "baseline": "middle", "color": "#111"}, "encoding": {"x": {"datum": 2005.53}, "y": {"datum": 7.79}}},
           {"mark": {"type": "text", "text": "►B-Demolition", "font": "DejaVu Sans", "fontSize": 14.5, "align": "left", "baseline": "middle", "color": "#111"}, "encoding": {"x": {"datum": 2004.83}, "y": {"datum": 7.34}}},
           {"mark": {"type": "text", "text": "►B-Renovation-Standard", "font": "DejaVu Sans", "fontSize": 14.5, "align": "left", "baseline": "middle", "color": "#111"}, "encoding": {"x": {"datum": 2000.93}, "y": {"datum": 6.91}}},
           {"mark": {"type": "text", "text": "►B-Renovation-Passive", "font": "DejaVu Sans", "fontWeight": "bold", "fontSize": 13.5, "align": "left", "baseline": "middle", "color": "#111"}, "encoding": {"x": {"datum": 2000.86}, "y": {"datum": 6.51}}},
           {"mark": {"type": "text", "text": "{", "font": "DejaVu Sans", "fontSize": 26, "align": "left", "baseline": "middle", "color": "#111"}, "encoding": {"x": {"datum": 2000.7}, "y": {"datum": 5.6}}},
           {"mark": {"type": "text", "text": "B-Lifestyle ◄", "font": "DejaVu Sans", "fontSize": 14.5, "align": "left", "baseline": "middle", "color": "#111"}, "encoding": {"x": {"datum": 2001.95}, "y": {"datum": 5.8}}},
           {"mark": {"type": "text", "text": "B-Water&Appliances ◄", "font": "DejaVu Sans", "fontSize": 14.5, "align": "left", "baseline": "middle", "color": "#111"}, "encoding": {"x": {"datum": 2001.95}, "y": {"datum": 5.39}}},
           {"mark": {"type": "text", "text": "►B-Bottom", "font": "DejaVu Sans", "fontWeight": "bold", "fontSize": 13.5, "align": "left", "baseline": "middle", "color": "#111"}, "encoding": {"x": {"datum": 2004.67}, "y": {"datum": 4.77}}},
           {"mark": {"type": "rule", "color": "#222", "strokeWidth": 1.2}, "encoding": {"x": {"datum": 2000.78}, "y": {"datum": 7.79}, "y2": {"datum": 6.51}}},
           {"mark": {"type": "rule", "color": "#222", "strokeWidth": 1.2}, "encoding": {"x": {"datum": 2000.78}, "x2": {"datum": 2005.4}, "y": {"datum": 7.79}}},
           {"mark": {"type": "rule", "color": "#222", "strokeWidth": 1.2}, "encoding": {"x": {"datum": 2000.78}, "x2": {"datum": 2004.9}, "y": {"datum": 7.34}}},
           {"mark": {"type": "rule", "color": "#222", "strokeWidth": 1.2}, "encoding": {"x": {"datum": 2014.6}, "x2": {"datum": 2015.19}, "y": {"datum": 6.51}}},
           {"mark": {"type": "rule", "color": "#222", "strokeWidth": 1.2}, "encoding": {"x": {"datum": 2015.19}, "y": {"datum": 6.51}, "y2": {"datum": 5.39}}},
           {"mark": {"type": "rule", "color": "#222", "strokeWidth": 1.2}, "encoding": {"x": {"datum": 2010.6}, "x2": {"datum": 2015.19}, "y": {"datum": 5.8}}},
           {"mark": {"type": "rule", "color": "#222", "strokeWidth": 1.2}, "encoding": {"x": {"datum": 2014.75}, "x2": {"datum": 2015.19}, "y": {"datum": 5.39}}},
           {"mark": {"type": "rule", "color": "#222", "strokeWidth": 1.2}, "encoding": {"x": {"datum": 2000.75}, "y": {"datum": 5.25}, "y2": {"datum": 4.77}}},
           {"mark": {"type": "rule", "color": "#222", "strokeWidth": 1.2}, "encoding": {"x": {"datum": 2000.75}, "x2": {"datum": 2004.7}, "y": {"datum": 4.77}}}
         ]},
        {"transform": [{"fold": ["B-Demolition", "B-Renovation-Standard", "B-Renovation-Passive", "B-Lifestyle", "B-Water&Appliances", "B-Bottom", "B-Baseline"], "as": ["series", "value"]}],
         "mark": {"type": "line"},
         "encoding": {"x": {"field": "year", "type": "quantitative"}, "y": {"field": "value", "type": "quantitative"},
           "stroke": {"field": "series", "type": "nominal",
             "scale": {"domain": ["B-Baseline", "B-Demolition", "B-Renovation-Standard", "B-Renovation-Passive", "B-Lifestyle", "B-Water&Appliances", "B-Bottom"], "range": ["#00008b", "#1a4fff", "#2196f3", "#111111", "#ff8c00", "#ff1a1a", "#7a0000"]},
             "legend": {"orient": "none", "legendX": 19, "legendY": 282, "title": null, "symbolType": "M-2.85,0H2.85", "symbolSize": 144, "labelFontSize": 16, "labelOffset": 13, "rowPadding": 3.3}},
           "strokeWidth": {"field": "series", "type": "ordinal",
             "scale": {"type": "ordinal", "domain": ["B-Baseline", "B-Demolition", "B-Renovation-Standard", "B-Renovation-Passive", "B-Lifestyle", "B-Water&Appliances", "B-Bottom"], "range": [3.5, 2, 2, 1.6, 1.8, 2, 3.5]},
             "legend": {"orient": "none", "legendX": 19, "legendY": 282, "title": null, "symbolType": "M-2.85,0H2.85", "symbolSize": 144, "labelFontSize": 16, "labelOffset": 13, "rowPadding": 3.3}},
           "strokeDash": {"field": "series", "type": "nominal",
             "scale": {"domain": ["B-Baseline", "B-Demolition", "B-Renovation-Standard", "B-Renovation-Passive", "B-Lifestyle", "B-Water&Appliances", "B-Bottom"], "range": [[1, 0], [1, 0], [1, 0], [1.5, 1.5], [1, 0], [1, 0], [1, 0]]},
             "legend": {"orient": "none", "legendX": 19, "legendY": 282, "title": null, "symbolType": "M-2.85,0H2.85", "symbolSize": 144, "labelFontSize": 16, "labelOffset": 13, "rowPadding": 3.3}}}}
      ]
    },
    {"data": {"values": [{}]},
     "mark": {"type": "rule", "opacity": 0},
     "encoding": {"y": {"datum": 0, "type": "quantitative", "scale": {"domain": [0, 11], "nice": false},
       "axis": {"orient": "right", "values": [0, 1, 2, 3, 4, 5, 6, 7, 8, 9, 10, 11], "labelFontSize": 20, "labelPadding": 4, "tickSize": 0, "domain": false, "grid": false, "title": null}}}}
  ]
},
{
  "width": 190, "height": 463,
  "resolve": {"scale": {"y": "independent"}},
  "layer": [
    {
      "data": {"values": [
        {"x":0,"vi_t":11,"vi_b":11,"v_t":10.67,"vh_t":9.26,"v_b":7.24,"iv_b":6.37,"iii_t":6.1,"iii_b":4.12,"iih_t":2.97,"i_t":2.39,"i_b":0.99},
        {"x":0.35,"vi_t":11,"vi_b":11,"v_t":10.67,"vh_t":9.26,"v_b":7.24,"iv_b":6.37,"iii_t":6.1,"iii_b":4.12,"iih_t":2.97,"i_t":2.39,"i_b":0.99},
        {"x":0.607,"vi_t":11,"vi_b":10.06,"v_t":10.06,"vh_t":7.24,"v_b":7.24,"iv_b":4.73,"iii_t":4.73,"iii_b":3.48,"iih_t":2.2,"i_t":2.2,"i_b":0.99},
        {"x":1,"vi_t":11,"vi_b":10.06,"v_t":10.06,"vh_t":7.24,"v_b":7.24,"iv_b":4.73,"iii_t":4.73,"iii_b":3.48,"iih_t":2.2,"i_t":2.2,"i_b":0.99}
      ]},
      "layer": [
        {"mark": {"type": "area", "color": "#808080"},
         "encoding": {
           "x": {"field": "x", "type": "quantitative", "scale": {"domain": [0, 1], "nice": false},
                 "axis": {"title": ["Stabilization classes", "for 2050"], "labels": false, "ticks": false, "domain": false, "grid": false, "titleFont": "DejaVu Sans", "titleFontSize": 14, "titlePadding": 4, "titleLineHeight": 20, "titleColor": "#222"}},
           "y": {"field": "vi_t", "type": "quantitative", "scale": {"domain": [0, 11], "nice": false},
                 "axis": {"orient": "right", "values": [0.99, 2.2, 3.48, 4.73, 7.24, 10.06], "labelExpr": "datum.value < 1.5 ? '2.0' : datum.value < 3 ? '2.4' : datum.value < 4 ? '2.8' : datum.value < 6 ? '3.2' : datum.value < 8 ? '4.0' : '4.9'", "labelFontSize": 17, "labelPadding": 2, "tickSize": 6, "tickColor": "#333", "domain": false, "grid": false, "title": "Global mean temperature increase about pre-industrial level (°C)", "titleFontSize": 12, "titleAngle": 270, "titleBaseline": "top", "titlePadding": 4, "titleColor": "#333"}},
           "y2": {"field": "vi_b"}}},
        {"mark": {"type": "area", "color": "#8b0000"}, "encoding": {"x": {"field": "x", "type": "quantitative"}, "y": {"field": "v_t", "type": "quantitative"}, "y2": {"field": "v_b"}}},
        {"mark": {"type": "area", "color": {"gradient": "linear", "x1": 0, "y1": 0, "x2": 1, "y2": 0.73, "stops": [
      {"offset":0,"color":"#ff0000"},{"offset":0.0208,"color":"#ff0000"},{"offset":0.0208,"color":"#8b0000"},{"offset":0.0417,"color":"#8b0000"},
      {"offset":0.0417,"color":"#ff0000"},{"offset":0.0625,"color":"#ff0000"},{"offset":0.0625,"color":"#8b0000"},{"offset":0.0833,"color":"#8b0000"},
      {"offset":0.0833,"color":"#ff0000"},{"offset":0.1042,"color":"#ff0000"},{"offset":0.1042,"color":"#8b0000"},{"offset":0.125,"color":"#8b0000"},
      {"offset":0.125,"color":"#ff0000"},{"offset":0.1458,"color":"#ff0000"},{"offset":0.1458,"color":"#8b0000"},{"offset":0.1667,"color":"#8b0000"},
      {"offset":0.1667,"color":"#ff0000"},{"offset":0.1875,"color":"#ff0000"},{"offset":0.1875,"color":"#8b0000"},{"offset":0.2083,"color":"#8b0000"},
      {"offset":0.2083,"color":"#ff0000"},{"offset":0.2292,"color":"#ff0000"},{"offset":0.2292,"color":"#8b0000"},{"offset":0.25,"color":"#8b0000"},
      {"offset":0.25,"color":"#ff0000"},{"offset":0.2708,"color":"#ff0000"},{"offset":0.2708,"color":"#8b0000"},{"offset":0.2917,"color":"#8b0000"},
      {"offset":0.2917,"color":"#ff0000"},{"offset":0.3125,"color":"#ff0000"},{"offset":0.3125,"color":"#8b0000"},{"offset":0.3333,"color":"#8b0000"},
      {"offset":0.3333,"color":"#ff0000"},{"offset":0.3542,"color":"#ff0000"},{"offset":0.3542,"color":"#8b0000"},{"offset":0.375,"color":"#8b0000"},
      {"offset":0.375,"color":"#ff0000"},{"offset":0.3958,"color":"#ff0000"},{"offset":0.3958,"color":"#8b0000"},{"offset":0.4167,"color":"#8b0000"},
      {"offset":0.4167,"color":"#ff0000"},{"offset":0.4375,"color":"#ff0000"},{"offset":0.4375,"color":"#8b0000"},{"offset":0.4583,"color":"#8b0000"},
      {"offset":0.4583,"color":"#ff0000"},{"offset":0.4792,"color":"#ff0000"},{"offset":0.4792,"color":"#8b0000"},{"offset":0.5,"color":"#8b0000"},
      {"offset":0.5,"color":"#ff0000"},{"offset":0.5208,"color":"#ff0000"},{"offset":0.5208,"color":"#8b0000"},{"offset":0.5417,"color":"#8b0000"},
      {"offset":0.5417,"color":"#ff0000"},{"offset":0.5625,"color":"#ff0000"},{"offset":0.5625,"color":"#8b0000"},{"offset":0.5833,"color":"#8b0000"},
      {"offset":0.5833,"color":"#ff0000"},{"offset":0.6042,"color":"#ff0000"},{"offset":0.6042,"color":"#8b0000"},{"offset":0.625,"color":"#8b0000"},
      {"offset":0.625,"color":"#ff0000"},{"offset":0.6458,"color":"#ff0000"},{"offset":0.6458,"color":"#8b0000"},{"offset":0.6667,"color":"#8b0000"},
      {"offset":0.6667,"color":"#ff0000"},{"offset":0.6875,"color":"#ff0000"},{"offset":0.6875,"color":"#8b0000"},{"offset":0.7083,"color":"#8b0000"},
      {"offset":0.7083,"color":"#ff0000"},{"offset":0.7292,"color":"#ff0000"},{"offset":0.7292,"color":"#8b0000"},{"offset":0.75,"color":"#8b0000"},
      {"offset":0.75,"color":"#ff0000"},{"offset":0.7708,"color":"#ff0000"},{"offset":0.7708,"color":"#8b0000"},{"offset":0.7917,"color":"#8b0000"},
      {"offset":0.7917,"color":"#ff0000"},{"offset":0.8125,"color":"#ff0000"},{"offset":0.8125,"color":"#8b0000"},{"offset":0.8333,"color":"#8b0000"},
      {"offset":0.8333,"color":"#ff0000"},{"offset":0.8542,"color":"#ff0000"},{"offset":0.8542,"color":"#8b0000"},{"offset":0.875,"color":"#8b0000"},
      {"offset":0.875,"color":"#ff0000"},{"offset":0.8958,"color":"#ff0000"},{"offset":0.8958,"color":"#8b0000"},{"offset":0.9167,"color":"#8b0000"},
      {"offset":0.9167,"color":"#ff0000"},{"offset":0.9375,"color":"#ff0000"},{"offset":0.9375,"color":"#8b0000"},{"offset":0.9583,"color":"#8b0000"},
      {"offset":0.9583,"color":"#ff0000"},{"offset":0.9792,"color":"#ff0000"},{"offset":0.9792,"color":"#8b0000"},{"offset":1,"color":"#8b0000"}]}},
         "encoding": {"x": {"field": "x", "type": "quantitative"}, "y": {"field": "vh_t", "type": "quantitative"}, "y2": {"field": "v_b"}}},
        {"mark": {"type": "area", "color": "#ff0000"}, "encoding": {"x": {"field": "x", "type": "quantitative"}, "y": {"field": "v_b", "type": "quantitative"}, "y2": {"field": "iv_b"}}},
        {"mark": {"type": "area", "color": "#f59d00"}, "encoding": {"x": {"field": "x", "type": "quantitative"}, "y": {"field": "iii_t", "type": "quantitative"}, "y2": {"field": "iii_b"}}},
        {"mark": {"type": "area", "color": "#ffff00"}, "encoding": {"x": {"field": "x", "type": "quantitative"}, "y": {"field": "iii_b", "type": "quantitative"}, "y2": {"field": "i_t"}}},
        {"mark": {"type": "area", "color": {"gradient": "linear", "x1": 0, "y1": 0, "x2": 1, "y2": 0.28, "stops": [
      {"offset":0,"color":"#00b050"},{"offset":0.0208,"color":"#00b050"},{"offset":0.0208,"color":"#ffff00"},{"offset":0.0417,"color":"#ffff00"},
      {"offset":0.0417,"color":"#00b050"},{"offset":0.0625,"color":"#00b050"},{"offset":0.0625,"color":"#ffff00"},{"offset":0.0833,"color":"#ffff00"},
      {"offset":0.0833,"color":"#00b050"},{"offset":0.1042,"color":"#00b050"},{"offset":0.1042,"color":"#ffff00"},{"offset":0.125,"color":"#ffff00"},
      {"offset":0.125,"color":"#00b050"},{"offset":0.1458,"color":"#00b050"},{"offset":0.1458,"color":"#ffff00"},{"offset":0.1667,"color":"#ffff00"},
      {"offset":0.1667,"color":"#00b050"},{"offset":0.1875,"color":"#00b050"},{"offset":0.1875,"color":"#ffff00"},{"offset":0.2083,"color":"#ffff00"},
      {"offset":0.2083,"color":"#00b050"},{"offset":0.2292,"color":"#00b050"},{"offset":0.2292,"color":"#ffff00"},{"offset":0.25,"color":"#ffff00"},
      {"offset":0.25,"color":"#00b050"},{"offset":0.2708,"color":"#00b050"},{"offset":0.2708,"color":"#ffff00"},{"offset":0.2917,"color":"#ffff00"},
      {"offset":0.2917,"color":"#00b050"},{"offset":0.3125,"color":"#00b050"},{"offset":0.3125,"color":"#ffff00"},{"offset":0.3333,"color":"#ffff00"},
      {"offset":0.3333,"color":"#00b050"},{"offset":0.3542,"color":"#00b050"},{"offset":0.3542,"color":"#ffff00"},{"offset":0.375,"color":"#ffff00"},
      {"offset":0.375,"color":"#00b050"},{"offset":0.3958,"color":"#00b050"},{"offset":0.3958,"color":"#ffff00"},{"offset":0.4167,"color":"#ffff00"},
      {"offset":0.4167,"color":"#00b050"},{"offset":0.4375,"color":"#00b050"},{"offset":0.4375,"color":"#ffff00"},{"offset":0.4583,"color":"#ffff00"},
      {"offset":0.4583,"color":"#00b050"},{"offset":0.4792,"color":"#00b050"},{"offset":0.4792,"color":"#ffff00"},{"offset":0.5,"color":"#ffff00"},
      {"offset":0.5,"color":"#00b050"},{"offset":0.5208,"color":"#00b050"},{"offset":0.5208,"color":"#ffff00"},{"offset":0.5417,"color":"#ffff00"},
      {"offset":0.5417,"color":"#00b050"},{"offset":0.5625,"color":"#00b050"},{"offset":0.5625,"color":"#ffff00"},{"offset":0.5833,"color":"#ffff00"},
      {"offset":0.5833,"color":"#00b050"},{"offset":0.6042,"color":"#00b050"},{"offset":0.6042,"color":"#ffff00"},{"offset":0.625,"color":"#ffff00"},
      {"offset":0.625,"color":"#00b050"},{"offset":0.6458,"color":"#00b050"},{"offset":0.6458,"color":"#ffff00"},{"offset":0.6667,"color":"#ffff00"},
      {"offset":0.6667,"color":"#00b050"},{"offset":0.6875,"color":"#00b050"},{"offset":0.6875,"color":"#ffff00"},{"offset":0.7083,"color":"#ffff00"},
      {"offset":0.7083,"color":"#00b050"},{"offset":0.7292,"color":"#00b050"},{"offset":0.7292,"color":"#ffff00"},{"offset":0.75,"color":"#ffff00"},
      {"offset":0.75,"color":"#00b050"},{"offset":0.7708,"color":"#00b050"},{"offset":0.7708,"color":"#ffff00"},{"offset":0.7917,"color":"#ffff00"},
      {"offset":0.7917,"color":"#00b050"},{"offset":0.8125,"color":"#00b050"},{"offset":0.8125,"color":"#ffff00"},{"offset":0.8333,"color":"#ffff00"},
      {"offset":0.8333,"color":"#00b050"},{"offset":0.8542,"color":"#00b050"},{"offset":0.8542,"color":"#ffff00"},{"offset":0.875,"color":"#ffff00"},
      {"offset":0.875,"color":"#00b050"},{"offset":0.8958,"color":"#00b050"},{"offset":0.8958,"color":"#ffff00"},{"offset":0.9167,"color":"#ffff00"},
      {"offset":0.9167,"color":"#00b050"},{"offset":0.9375,"color":"#00b050"},{"offset":0.9375,"color":"#ffff00"},{"offset":0.9583,"color":"#ffff00"},
      {"offset":0.9583,"color":"#00b050"},{"offset":0.9792,"color":"#00b050"},{"offset":0.9792,"color":"#ffff00"},{"offset":1,"color":"#ffff00"}]}},
         "encoding": {"x": {"field": "x", "type": "quantitative"}, "y": {"field": "iih_t", "type": "quantitative"}, "y2": {"field": "i_t"}}},
        {"mark": {"type": "area", "color": "#00b050"}, "encoding": {"x": {"field": "x", "type": "quantitative"}, "y": {"field": "i_t", "type": "quantitative"}, "y2": {"field": "i_b"}}},
        {"data": {"values": [{}]},
         "layer": [
           {"mark": {"type": "text", "text": "VI", "font": "Liberation Serif", "fontSize": 24, "align": "center", "baseline": "middle", "color": "#111"}, "encoding": {"x": {"datum": 0.8}, "y": {"datum": 10.49}}},
           {"mark": {"type": "text", "text": "V", "font": "Liberation Serif", "fontSize": 24, "align": "center", "baseline": "middle", "color": "#111"}, "encoding": {"x": {"datum": 0.8}, "y": {"datum": 8.71}}},
           {"mark": {"type": "text", "text": "IV", "font": "Liberation Serif", "fontSize": 24, "align": "center", "baseline": "middle", "color": "#111"}, "encoding": {"x": {"datum": 0.8}, "y": {"datum": 5.82}}},
           {"mark": {"type": "text", "text": "III", "font": "Liberation Serif", "fontSize": 24, "align": "center", "baseline": "middle", "color": "#111"}, "encoding": {"x": {"datum": 0.8}, "y": {"datum": 4.08}}},
           {"mark": {"type": "text", "text": "II", "font": "Liberation Serif", "fontSize": 24, "align": "center", "baseline": "middle", "color": "#111"}, "encoding": {"x": {"datum": 0.8}, "y": {"datum": 2.77}}},
           {"mark": {"type": "text", "text": "I", "font": "Liberation Serif", "fontSize": 24, "align": "center", "baseline": "middle", "color": "#111"}, "encoding": {"x": {"datum": 0.8}, "y": {"datum": 1.54}}}
         ]}
      ]
    },
    {"data": {"values": [{}]},
     "mark": {"type": "rule", "opacity": 0},
     "encoding": {"y": {"datum": 0, "type": "quantitative", "scale": {"domain": [0, 11], "nice": false},
       "axis": {"orient": "left", "values": [0, 1, 2, 3, 4, 5, 6, 7, 8, 9, 10, 11], "labels": false, "tickSize": 5, "tickColor": "#777", "domain": false, "grid": false, "title": null}}}}
  ]
},
{
  "width": 628, "height": 440,
  "resolve": {"scale": {"y": "independent"}},
  "layer": [
    {
      "data": {"values": [
        {"year":2000,"I-Baseline":2085,"EE2":2085,"ME1":2085,"ME2":2085,"ME3":2085,"I-EE3":null},
        {"year":2007.5,"I-Baseline":2720,"EE2":2720,"ME1":2720,"ME2":2720,"ME3":2720,"I-EE3":null},
        {"year":2009,"I-Baseline":2935,"EE2":2925,"ME1":2915,"ME2":2900,"ME3":2890,"I-EE3":2930},
        {"year":2010,"I-Baseline":2940,"EE2":2925,"ME1":2905,"ME2":2885,"ME3":2770,"I-EE3":2925},
        {"year":2012,"I-Baseline":2942,"EE2":2922,"ME1":2890,"ME2":2840,"ME3":2520,"I-EE3":2915},
        {"year":2014,"I-Baseline":2930,"EE2":2910,"ME1":2855,"ME2":2775,"ME3":2240,"I-EE3":2895},
        {"year":2016,"I-Baseline":2910,"EE2":2893,"ME1":2810,"ME2":2678,"ME3":1966,"I-EE3":2875},
        {"year":2018,"I-Baseline":2912,"EE2":2885,"ME1":2770,"ME2":2600,"ME3":1728,"I-EE3":2860},
        {"year":2020,"I-Baseline":2955,"EE2":2890,"ME1":2757,"ME2":2548,"ME3":1572,"I-EE3":2860},
        {"year":2022,"I-Baseline":3010,"EE2":2910,"ME1":2738,"ME2":2505,"ME3":1430,"I-EE3":2880},
        {"year":2024,"I-Baseline":3050,"EE2":2935,"ME1":2718,"ME2":2440,"ME3":1282,"I-EE3":2893},
        {"year":2026,"I-Baseline":3072,"EE2":2940,"ME1":2655,"ME2":2300,"ME3":1100,"I-EE3":2888},
        {"year":2028,"I-Baseline":3070,"EE2":2910,"ME1":2560,"ME2":2170,"ME3":935,"I-EE3":2850},
        {"year":2030,"I-Baseline":3053,"EE2":2869,"ME1":2441,"ME2":1992,"ME3":792,"I-EE3":2775},
        {"year":2032,"I-Baseline":3015,"EE2":2815,"ME1":2320,"ME2":1800,"ME3":680,"I-EE3":2690},
        {"year":2034,"I-Baseline":2965,"EE2":2750,"ME1":2190,"ME2":1620,"ME3":590,"I-EE3":2590},
        {"year":2036,"I-Baseline":2920,"EE2":2675,"ME1":2060,"ME2":1480,"ME3":522,"I-EE3":2480},
        {"year":2038,"I-Baseline":2880,"EE2":2590,"ME1":1935,"ME2":1350,"ME3":475,"I-EE3":2395},
        {"year":2040,"I-Baseline":2850,"EE2":2499,"ME1":1821,"ME2":1227,"ME3":443,"I-EE3":2320},
        {"year":2042,"I-Baseline":2825,"EE2":2440,"ME1":1700,"ME2":1115,"ME3":445,"I-EE3":2240},
        {"year":2044,"I-Baseline":2808,"EE2":2385,"ME1":1600,"ME2":1040,"ME3":475,"I-EE3":2170},
        {"year":2046,"I-Baseline":2800,"EE2":2330,"ME1":1525,"ME2":985,"ME3":525,"I-EE3":2115},
        {"year":2048,"I-Baseline":2800,"EE2":2285,"ME1":1465,"ME2":935,"ME3":595,"I-EE3":2055},
        {"year":2050,"I-Baseline":2816,"EE2":2251,"ME1":1417,"ME2":879,"ME3":678,"I-EE3":2006}
      ]},
      "layer": [
        {"mark": {"type": "area", "color": "#bebebe", "interpolate": "monotone"},
         "encoding": {
           "x": {"field": "year", "type": "quantitative", "scale": {"domain": [2000, 2050], "nice": false},
                 "axis": {"values": [2000, 2010, 2020, 2030, 2040, 2050], "format": "d", "labelFontSize": 19, "labelPadding": 3, "tickSize": 0, "domain": false, "title": "Year", "titleFontSize": 17, "titlePadding": 2, "grid": true, "gridColor": "#c8c8c8", "gridDash": [1, 2]}},
           "y": {"field": "ME3", "type": "quantitative", "scale": {"domain": [0, 3500], "nice": false},
                 "axis": {"values": [0, 500, 1000, 1500, 2000, 2500, 3000, 3500], "format": "d", "labelFontSize": 19, "labelPadding": 3, "tickSize": 0, "domain": false, "title": "Sectoral carbon footprint in Mt CO₂eq/yr", "titleFontSize": 17.5, "titlePadding": 5, "grid": true, "gridColor": "#c8c8c8", "gridDash": [1, 2]}}
         }},
        {"mark": {"type": "area", "interpolate": "monotone"},
         "encoding": {"x": {"field": "year", "type": "quantitative"}, "y": {"field": "ME2", "type": "quantitative"}, "y2": {"field": "ME3"},
           "fill": {"datum": "I-ME2 -> I-ME3",
             "scale": {"domain": ["I-Baseline -> I-EE2", "I-EE2 -> I-ME1", "I-ME1 -> I-ME2", "I-ME2 -> I-ME3"], "range": ["#0a78ff", "#5fff9f", "#ffff00", "#ff4400"]},
             "legend": {"orient": "none", "legendX": 33, "legendY": 335.5, "title": null, "symbolType": "M-3,-1.15H3V1.15H-3Z", "symbolSize": 144, "labelFontSize": 17, "labelOffset": 14, "rowPadding": 2.3}}}},
        {"mark": {"type": "area", "interpolate": "monotone"},
         "encoding": {"x": {"field": "year", "type": "quantitative"}, "y": {"field": "ME1", "type": "quantitative"}, "y2": {"field": "ME2"}, "fill": {"datum": "I-ME1 -> I-ME2"}}},
        {"mark": {"type": "area", "interpolate": "monotone"},
         "encoding": {"x": {"field": "year", "type": "quantitative"}, "y": {"field": "EE2", "type": "quantitative"}, "y2": {"field": "ME1"}, "fill": {"datum": "I-EE2 -> I-ME1"}}},
        {"mark": {"type": "area", "interpolate": "monotone"},
         "encoding": {"x": {"field": "year", "type": "quantitative"}, "y": {"field": "I-Baseline", "type": "quantitative"}, "y2": {"field": "EE2"}, "fill": {"datum": "I-Baseline -> I-EE2"}}},
        {"data": {"values": [{}]},
         "layer": [
           {"mark": {"type": "rect", "fill": "white", "stroke": "#999", "strokeWidth": 1},
            "encoding": {"x": {"datum": 2001.27}, "x2": {"datum": 2016.8}, "y": {"datum": 1372}, "y2": {"datum": 42}}},
           {"mark": {"type": "rect", "fill": "white", "stroke": "#ddd", "strokeWidth": 1},
            "encoding": {"x": {"datum": 2017.36}, "x2": {"datum": 2024.04}, "y": {"datum": 1293}, "y2": {"datum": 105}}},
           {"mark": {"type": "text", "text": "c) Emission reduction scenarios for the global steel cycle", "font": "DejaVu Sans", "fontSize": 17, "align": "left", "baseline": "middle", "color": "#333"},
            "encoding": {"x": {"datum": 2001.2}, "y": {"datum": 3390}}},
           {"mark": {"type": "text", "text": "I-Baseline", "font": "DejaVu Sans", "fontWeight": "bold", "fontSize": 15, "align": "left", "baseline": "middle", "color": "#111"}, "encoding": {"x": {"datum": 2017.5}, "y": {"datum": 1213}}},
           {"mark": {"type": "text", "text": "►I-EE1", "font": "DejaVu Sans", "fontSize": 15, "align": "left", "baseline": "middle", "color": "#111"}, "encoding": {"x": {"datum": 2017.67}, "y": {"datum": 1016}}},
           {"mark": {"type": "text", "text": "►I-EE2", "font": "DejaVu Sans", "fontWeight": "bold", "fontSize": 15, "align": "left", "baseline": "middle", "color": "#111"}, "encoding": {"x": {"datum": 2017.67}, "y": {"datum": 858}}},
           {"mark": {"type": "text", "text": "►I-EE3", "font": "DejaVu Sans", "fontSize": 15, "align": "left", "baseline": "middle", "color": "#111"}, "encoding": {"x": {"datum": 2017.67}, "y": {"datum": 708}}},
           {"mark": {"type": "text", "text": "I-ME1◄", "font": "DejaVu Sans", "fontSize": 15, "align": "left", "baseline": "middle", "color": "#111"}, "encoding": {"x": {"datum": 2018.47}, "y": {"datum": 447}}},
           {"mark": {"type": "text", "text": "I-ME2◄", "font": "DejaVu Sans", "fontSize": 15, "align": "left", "baseline": "middle", "color": "#111"}, "encoding": {"x": {"datum": 2018.47}, "y": {"datum": 289}}},
           {"mark": {"type": "text", "text": "I-ME3◄", "font": "DejaVu Sans", "fontSize": 15, "align": "left", "baseline": "middle", "color": "#111"}, "encoding": {"x": {"datum": 2018.47}, "y": {"datum": 130}}},
           {"mark": {"type": "rule", "color": "#222", "strokeWidth": 1.2}, "encoding": {"x": {"datum": 2017.62}, "y": {"datum": 1150}, "y2": {"datum": 708}}},
           {"mark": {"type": "rule", "color": "#222", "strokeWidth": 1.2}, "encoding": {"x": {"datum": 2023.75}, "y": {"datum": 858}, "y2": {"datum": 130}}},
           {"mark": {"type": "rule", "color": "#222", "strokeWidth": 1.2}, "encoding": {"x": {"datum": 2023.1}, "x2": {"datum": 2023.75}, "y": {"datum": 858}}}
         ]},
        {"mark": {"type": "line", "interpolate": "monotone", "strokeWidth": 3},
         "transform": [{"filter": "datum.year >= 2009"}],
         "encoding": {"x": {"field": "year", "type": "quantitative"}, "y": {"field": "ME3", "type": "quantitative"},
           "color": {"datum": "I-ME3", "scale": {"range": ["#7a0000"]},
             "legend": {"orient": "none", "legendX": 33, "legendY": 416.5, "title": null, "symbolType": "M-3,0H3", "symbolSize": 144, "symbolStrokeWidth": 3.5, "labelFontSize": 17, "labelOffset": 14}}}},
        {"transform": [{"fold": ["I-EE3", "I-Baseline"], "as": ["series", "value"]}],
         "mark": {"type": "line", "interpolate": "monotone"},
         "encoding": {"x": {"field": "year", "type": "quantitative"}, "y": {"field": "value", "type": "quantitative"},
           "stroke": {"field": "series", "type": "nominal", "scale": {"domain": ["I-Baseline", "I-EE1", "I-EE3"], "range": ["#00008b", "#1c1ca0", "#2a2aa8"]},
             "legend": {"orient": "none", "legendX": 33, "legendY": 274.5, "title": null, "symbolSize": 144, "labelFontSize": 17, "labelOffset": 14, "rowPadding": 2.2}},
           "strokeWidth": {"field": "series", "type": "ordinal", "scale": {"type": "ordinal", "domain": ["I-Baseline", "I-EE1", "I-EE3"], "range": [4, 1.6, 1.8]},
             "legend": {"orient": "none", "legendX": 33, "legendY": 274.5, "title": null, "symbolSize": 144, "labelFontSize": 17, "labelOffset": 14, "rowPadding": 2.2}},
           "strokeDash": {"field": "series", "type": "nominal", "scale": {"domain": ["I-Baseline", "I-EE1", "I-EE3"], "range": [[1, 0], [1, 0], [2, 1.5]]},
             "legend": {"orient": "none", "legendX": 33, "legendY": 274.5, "title": null, "symbolSize": 144, "labelFontSize": 17, "labelOffset": 14, "rowPadding": 2.2}}}},
        {"data": {"values": [
          {"year":2010,"v":2935},{"year":2011,"v":2935},{"year":2012,"v":2935},{"year":2013,"v":2930},{"year":2014,"v":2922},{"year":2015,"v":2912},
          {"year":2016,"v":2903},{"year":2017,"v":2898},{"year":2018,"v":2902},{"year":2019,"v":2920},{"year":2020,"v":2942},{"year":2021,"v":2962},
          {"year":2022,"v":2978},{"year":2023,"v":2988},{"year":2024,"v":2994},{"year":2025,"v":2995},{"year":2026,"v":2993},{"year":2027,"v":2982},
          {"year":2028,"v":2969},{"year":2029,"v":2956},{"year":2030,"v":2937},{"year":2031,"v":2916},{"year":2032,"v":2890},{"year":2033,"v":2863},
          {"year":2034,"v":2832},{"year":2035,"v":2803},{"year":2036,"v":2771},{"year":2037,"v":2739},{"year":2038,"v":2710},{"year":2039,"v":2684},
          {"year":2040,"v":2652},{"year":2041,"v":2631},{"year":2042,"v":2607},{"year":2043,"v":2581},{"year":2044,"v":2565},{"year":2045,"v":2547},
          {"year":2046,"v":2533},{"year":2047,"v":2520},{"year":2048,"v":2512},{"year":2049,"v":2507},{"year":2050,"v":2502}
         ]},
         "mark": {"type": "point", "filled": false, "strokeWidth": 1.6, "size": 100, "opacity": 1},
         "encoding": {"x": {"field": "year", "type": "quantitative"}, "y": {"field": "v", "type": "quantitative"},
           "stroke": {"datum": "I-EE1"},
           "shape": {"datum": "I-EE1", "scale": {"domain": ["I-Baseline", "I-EE1", "I-EE3"], "range": ["M-3,0H3", "M-0.6,-0.6L0.6,0.6M-0.6,0.6L0.6,-0.6", "M-3,0H3"]},
             "legend": {"orient": "none", "legendX": 33, "legendY": 274.5, "title": null, "symbolSize": 144, "labelFontSize": 17, "labelOffset": 14, "rowPadding": 2.2}}}}
      ]
    },
    {"data": {"values": [{}]},
     "mark": {"type": "rule", "opacity": 0},
     "encoding": {"y": {"datum": 0, "type": "quantitative", "scale": {"domain": [0, 3500], "nice": false},
       "axis": {"orient": "right", "values": [0, 500, 1000, 1500, 2000, 2500, 3000, 3500], "format": "d", "labelFontSize": 19, "labelPadding": 3, "tickSize": 0, "domain": false, "grid": false, "title": null}}}}
  ]
},
{
  "width": 190, "height": 440,
  "resolve": {"scale": {"y": "independent"}},
  "layer": [
    {
      "data": {"values": [
        {"x":0,"v_t":3500,"vh_t":3325,"v_b":2585,"iv_b":2269,"iii_t":2171,"iii_b":1437,"iih_t":1010,"i_t":810,"i_b":295},
        {"x":0.345,"v_t":3500,"vh_t":3325,"v_b":2585,"iv_b":2269,"iii_t":2171,"iii_b":1437,"iih_t":1010,"i_t":810,"i_b":295},
        {"x":0.636,"v_t":3500,"vh_t":2585,"v_b":2585,"iv_b":1667,"iii_t":1667,"iii_b":1208,"iih_t":744,"i_t":744,"i_b":295},
        {"x":1,"v_t":3500,"vh_t":2585,"v_b":2585,"iv_b":1667,"iii_t":1667,"iii_b":1208,"iih_t":744,"i_t":744,"i_b":295}
      ]},
      "layer": [
        {"mark": {"type": "area", "color": "#8b0000"},
         "encoding": {
           "x": {"field": "x", "type": "quantitative", "scale": {"domain": [0, 1], "nice": false},
                 "axis": {"title": ["Stabilization classes", "for 2050"], "labels": false, "ticks": false, "domain": false, "grid": false, "titleFont": "DejaVu Sans", "titleFontSize": 14, "titlePadding": 4, "titleLineHeight": 20, "titleColor": "#222"}},
           "y": {"field": "v_t", "type": "quantitative", "scale": {"domain": [0, 3500], "nice": false},
                 "axis": {"orient": "right", "values": [295, 744, 1208, 1667, 2585], "labelExpr": "datum.value < 500 ? '2.0' : datum.value < 1000 ? '2.4' : datum.value < 1400 ? '2.8' : datum.value < 2000 ? '3.2' : '4.0'", "labelFontSize": 17, "labelPadding": 2, "tickSize": 6, "tickColor": "#333", "domain": false, "grid": false, "title": "Global mean temperature increase about pre-industrial level (°C)", "titleFontSize": 12, "titleAngle": 270, "titleBaseline": "top", "titlePadding": 4, "titleColor": "#333"}},
           "y2": {"field": "v_b"}}},
        {"mark": {"type": "area", "color": {"gradient": "linear", "x1": 0, "y1": 0, "x2": 1, "y2": 0.8, "stops": [
      {"offset":0,"color":"#ff0000"},{"offset":0.0208,"color":"#ff0000"},{"offset":0.0208,"color":"#8b0000"},{"offset":0.0417,"color":"#8b0000"},
      {"offset":0.0417,"color":"#ff0000"},{"offset":0.0625,"color":"#ff0000"},{"offset":0.0625,"color":"#8b0000"},{"offset":0.0833,"color":"#8b0000"},
      {"offset":0.0833,"color":"#ff0000"},{"offset":0.1042,"color":"#ff0000"},{"offset":0.1042,"color":"#8b0000"},{"offset":0.125,"color":"#8b0000"},
      {"offset":0.125,"color":"#ff0000"},{"offset":0.1458,"color":"#ff0000"},{"offset":0.1458,"color":"#8b0000"},{"offset":0.1667,"color":"#8b0000"},
      {"offset":0.1667,"color":"#ff0000"},{"offset":0.1875,"color":"#ff0000"},{"offset":0.1875,"color":"#8b0000"},{"offset":0.2083,"color":"#8b0000"},
      {"offset":0.2083,"color":"#ff0000"},{"offset":0.2292,"color":"#ff0000"},{"offset":0.2292,"color":"#8b0000"},{"offset":0.25,"color":"#8b0000"},
      {"offset":0.25,"color":"#ff0000"},{"offset":0.2708,"color":"#ff0000"},{"offset":0.2708,"color":"#8b0000"},{"offset":0.2917,"color":"#8b0000"},
      {"offset":0.2917,"color":"#ff0000"},{"offset":0.3125,"color":"#ff0000"},{"offset":0.3125,"color":"#8b0000"},{"offset":0.3333,"color":"#8b0000"},
      {"offset":0.3333,"color":"#ff0000"},{"offset":0.3542,"color":"#ff0000"},{"offset":0.3542,"color":"#8b0000"},{"offset":0.375,"color":"#8b0000"},
      {"offset":0.375,"color":"#ff0000"},{"offset":0.3958,"color":"#ff0000"},{"offset":0.3958,"color":"#8b0000"},{"offset":0.4167,"color":"#8b0000"},
      {"offset":0.4167,"color":"#ff0000"},{"offset":0.4375,"color":"#ff0000"},{"offset":0.4375,"color":"#8b0000"},{"offset":0.4583,"color":"#8b0000"},
      {"offset":0.4583,"color":"#ff0000"},{"offset":0.4792,"color":"#ff0000"},{"offset":0.4792,"color":"#8b0000"},{"offset":0.5,"color":"#8b0000"},
      {"offset":0.5,"color":"#ff0000"},{"offset":0.5208,"color":"#ff0000"},{"offset":0.5208,"color":"#8b0000"},{"offset":0.5417,"color":"#8b0000"},
      {"offset":0.5417,"color":"#ff0000"},{"offset":0.5625,"color":"#ff0000"},{"offset":0.5625,"color":"#8b0000"},{"offset":0.5833,"color":"#8b0000"},
      {"offset":0.5833,"color":"#ff0000"},{"offset":0.6042,"color":"#ff0000"},{"offset":0.6042,"color":"#8b0000"},{"offset":0.625,"color":"#8b0000"},
      {"offset":0.625,"color":"#ff0000"},{"offset":0.6458,"color":"#ff0000"},{"offset":0.6458,"color":"#8b0000"},{"offset":0.6667,"color":"#8b0000"},
      {"offset":0.6667,"color":"#ff0000"},{"offset":0.6875,"color":"#ff0000"},{"offset":0.6875,"color":"#8b0000"},{"offset":0.7083,"color":"#8b0000"},
      {"offset":0.7083,"color":"#ff0000"},{"offset":0.7292,"color":"#ff0000"},{"offset":0.7292,"color":"#8b0000"},{"offset":0.75,"color":"#8b0000"},
      {"offset":0.75,"color":"#ff0000"},{"offset":0.7708,"color":"#ff0000"},{"offset":0.7708,"color":"#8b0000"},{"offset":0.7917,"color":"#8b0000"},
      {"offset":0.7917,"color":"#ff0000"},{"offset":0.8125,"color":"#ff0000"},{"offset":0.8125,"color":"#8b0000"},{"offset":0.8333,"color":"#8b0000"},
      {"offset":0.8333,"color":"#ff0000"},{"offset":0.8542,"color":"#ff0000"},{"offset":0.8542,"color":"#8b0000"},{"offset":0.875,"color":"#8b0000"},
      {"offset":0.875,"color":"#ff0000"},{"offset":0.8958,"color":"#ff0000"},{"offset":0.8958,"color":"#8b0000"},{"offset":0.9167,"color":"#8b0000"},
      {"offset":0.9167,"color":"#ff0000"},{"offset":0.9375,"color":"#ff0000"},{"offset":0.9375,"color":"#8b0000"},{"offset":0.9583,"color":"#8b0000"},
      {"offset":0.9583,"color":"#ff0000"},{"offset":0.9792,"color":"#ff0000"},{"offset":0.9792,"color":"#8b0000"},{"offset":1,"color":"#8b0000"}]}},
         "encoding": {"x": {"field": "x", "type": "quantitative"}, "y": {"field": "vh_t", "type": "quantitative"}, "y2": {"field": "v_b"}}},
        {"mark": {"type": "area", "color": "#ff0000"}, "encoding": {"x": {"field": "x", "type": "quantitative"}, "y": {"field": "v_b", "type": "quantitative"}, "y2": {"field": "iv_b"}}},
        {"mark": {"type": "area", "color": "#f59d00"}, "encoding": {"x": {"field": "x", "type": "quantitative"}, "y": {"field": "iii_t", "type": "quantitative"}, "y2": {"field": "iii_b"}}},
        {"mark": {"type": "area", "color": "#ffff00"}, "encoding": {"x": {"field": "x", "type": "quantitative"}, "y": {"field": "iii_b", "type": "quantitative"}, "y2": {"field": "i_t"}}},
        {"mark": {"type": "area", "color": {"gradient": "linear", "x1": 0, "y1": 0, "x2": 1, "y2": 0.29, "stops": [
      {"offset":0,"color":"#00b050"},{"offset":0.0208,"color":"#00b050"},{"offset":0.0208,"color":"#ffff00"},{"offset":0.0417,"color":"#ffff00"},
      {"offset":0.0417,"color":"#00b050"},{"offset":0.0625,"color":"#00b050"},{"offset":0.0625,"color":"#ffff00"},{"offset":0.0833,"color":"#ffff00"},
      {"offset":0.0833,"color":"#00b050"},{"offset":0.1042,"color":"#00b050"},{"offset":0.1042,"color":"#ffff00"},{"offset":0.125,"color":"#ffff00"},
      {"offset":0.125,"color":"#00b050"},{"offset":0.1458,"color":"#00b050"},{"offset":0.1458,"color":"#ffff00"},{"offset":0.1667,"color":"#ffff00"},
      {"offset":0.1667,"color":"#00b050"},{"offset":0.1875,"color":"#00b050"},{"offset":0.1875,"color":"#ffff00"},{"offset":0.2083,"color":"#ffff00"},
      {"offset":0.2083,"color":"#00b050"},{"offset":0.2292,"color":"#00b050"},{"offset":0.2292,"color":"#ffff00"},{"offset":0.25,"color":"#ffff00"},
      {"offset":0.25,"color":"#00b050"},{"offset":0.2708,"color":"#00b050"},{"offset":0.2708,"color":"#ffff00"},{"offset":0.2917,"color":"#ffff00"},
      {"offset":0.2917,"color":"#00b050"},{"offset":0.3125,"color":"#00b050"},{"offset":0.3125,"color":"#ffff00"},{"offset":0.3333,"color":"#ffff00"},
      {"offset":0.3333,"color":"#00b050"},{"offset":0.3542,"color":"#00b050"},{"offset":0.3542,"color":"#ffff00"},{"offset":0.375,"color":"#ffff00"},
      {"offset":0.375,"color":"#00b050"},{"offset":0.3958,"color":"#00b050"},{"offset":0.3958,"color":"#ffff00"},{"offset":0.4167,"color":"#ffff00"},
      {"offset":0.4167,"color":"#00b050"},{"offset":0.4375,"color":"#00b050"},{"offset":0.4375,"color":"#ffff00"},{"offset":0.4583,"color":"#ffff00"},
      {"offset":0.4583,"color":"#00b050"},{"offset":0.4792,"color":"#00b050"},{"offset":0.4792,"color":"#ffff00"},{"offset":0.5,"color":"#ffff00"},
      {"offset":0.5,"color":"#00b050"},{"offset":0.5208,"color":"#00b050"},{"offset":0.5208,"color":"#ffff00"},{"offset":0.5417,"color":"#ffff00"},
      {"offset":0.5417,"color":"#00b050"},{"offset":0.5625,"color":"#00b050"},{"offset":0.5625,"color":"#ffff00"},{"offset":0.5833,"color":"#ffff00"},
      {"offset":0.5833,"color":"#00b050"},{"offset":0.6042,"color":"#00b050"},{"offset":0.6042,"color":"#ffff00"},{"offset":0.625,"color":"#ffff00"},
      {"offset":0.625,"color":"#00b050"},{"offset":0.6458,"color":"#00b050"},{"offset":0.6458,"color":"#ffff00"},{"offset":0.6667,"color":"#ffff00"},
      {"offset":0.6667,"color":"#00b050"},{"offset":0.6875,"color":"#00b050"},{"offset":0.6875,"color":"#ffff00"},{"offset":0.7083,"color":"#ffff00"},
      {"offset":0.7083,"color":"#00b050"},{"offset":0.7292,"color":"#00b050"},{"offset":0.7292,"color":"#ffff00"},{"offset":0.75,"color":"#ffff00"},
      {"offset":0.75,"color":"#00b050"},{"offset":0.7708,"color":"#00b050"},{"offset":0.7708,"color":"#ffff00"},{"offset":0.7917,"color":"#ffff00"},
      {"offset":0.7917,"color":"#00b050"},{"offset":0.8125,"color":"#00b050"},{"offset":0.8125,"color":"#ffff00"},{"offset":0.8333,"color":"#ffff00"},
      {"offset":0.8333,"color":"#00b050"},{"offset":0.8542,"color":"#00b050"},{"offset":0.8542,"color":"#ffff00"},{"offset":0.875,"color":"#ffff00"},
      {"offset":0.875,"color":"#00b050"},{"offset":0.8958,"color":"#00b050"},{"offset":0.8958,"color":"#ffff00"},{"offset":0.9167,"color":"#ffff00"},
      {"offset":0.9167,"color":"#00b050"},{"offset":0.9375,"color":"#00b050"},{"offset":0.9375,"color":"#ffff00"},{"offset":0.9583,"color":"#ffff00"},
      {"offset":0.9583,"color":"#00b050"},{"offset":0.9792,"color":"#00b050"},{"offset":0.9792,"color":"#ffff00"},{"offset":1,"color":"#ffff00"}]}},
         "encoding": {"x": {"field": "x", "type": "quantitative"}, "y": {"field": "iih_t", "type": "quantitative"}, "y2": {"field": "i_t"}}},
        {"mark": {"type": "area", "color": "#00b050"}, "encoding": {"x": {"field": "x", "type": "quantitative"}, "y": {"field": "i_t", "type": "quantitative"}, "y2": {"field": "i_b"}}},
        {"data": {"values": [{}]},
         "layer": [
           {"mark": {"type": "text", "text": "V", "font": "Liberation Serif", "fontSize": 22, "align": "center", "baseline": "middle", "color": "#111"}, "encoding": {"x": {"datum": 0.81}, "y": {"datum": 3074}}},
           {"mark": {"type": "text", "text": "IV", "font": "Liberation Serif", "fontSize": 22, "align": "center", "baseline": "middle", "color": "#111"}, "encoding": {"x": {"datum": 0.81}, "y": {"datum": 2124}}},
           {"mark": {"type": "text", "text": "III", "font": "Liberation Serif", "fontSize": 22, "align": "center", "baseline": "middle", "color": "#111"}, "encoding": {"x": {"datum": 0.81}, "y": {"datum": 1437}}},
           {"mark": {"type": "text", "text": "II", "font": "Liberation Serif", "fontSize": 22, "align": "center", "baseline": "middle", "color": "#111"}, "encoding": {"x": {"datum": 0.81}, "y": {"datum": 950}}},
           {"mark": {"type": "text", "text": "I", "font": "Liberation Serif", "fontSize": 22, "align": "center", "baseline": "middle", "color": "#111"}, "encoding": {"x": {"datum": 0.81}, "y": {"datum": 488}}}
         ]}
      ]
    },
    {"data": {"values": [{}]},
     "mark": {"type": "rule", "opacity": 0},
     "encoding": {"y": {"datum": 0, "type": "quantitative", "scale": {"domain": [0, 3500], "nice": false},
       "axis": {"orient": "left", "values": [0, 500, 1000, 1500, 2000, 2500, 3000, 3500], "labels": false, "tickSize": 5, "tickColor": "#777", "domain": false, "grid": false, "title": null}}}}
  ]
}
]
}
